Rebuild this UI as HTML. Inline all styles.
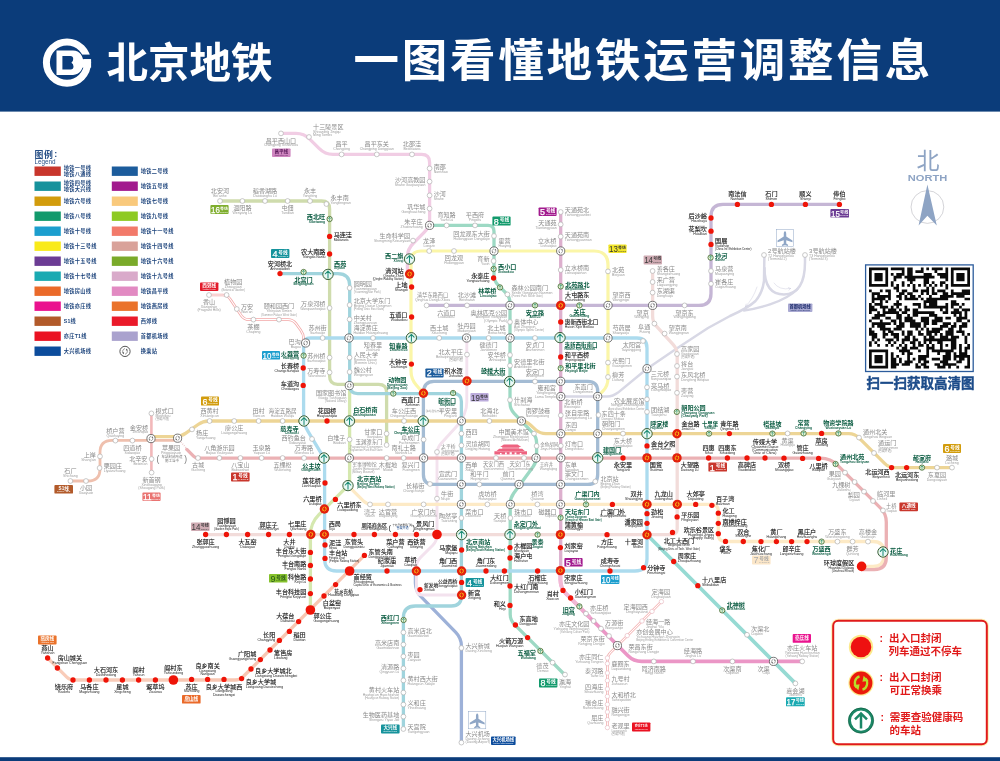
<!DOCTYPE html><html lang="zh"><head><meta charset="utf-8"><title>北京地铁 一图看懂地铁运营调整信息</title><style>html,body{margin:0;padding:0;background:#fff}body{width:1000px;height:761px;overflow:hidden;font-family:"Liberation Sans","Noto Sans CJK SC",sans-serif}svg{display:block;will-change:transform}</style></head><body><svg width="1000" height="761" viewBox="0 0 1000 761" font-family="'Liberation Sans', 'Noto Sans CJK SC', sans-serif"><defs><g id="mn"><circle r="2.4" fill="#fff" stroke="#b2b2b2" stroke-width="0.7"/></g><g id="mq"><circle r="2.2" fill="#fff" stroke="#e6b4bc" stroke-width="0.6"/></g><g id="mr"><circle r="2.65" fill="#ee1408"/></g><g id="mR"><circle r="4.8" fill="#ee1408"/></g><g id="mt"><circle r="4.1" fill="#fff" stroke="#555" stroke-width="0.8"/><g stroke="#5a5a5a" fill="#5a5a5a" transform="scale(0.86)"><path d="M-0.4 -2.5C-2.4 -1.9 -2.7 0.6 -1.6 1.9" fill="none" stroke-width="0.6" stroke-linecap="round"/><path d="M-2.5 1.0L-1.2 2.6L-0.8 0.8Z" stroke="none"/><path d="M0.4 2.5C2.4 1.9 2.7 -0.6 1.6 -1.9" fill="none" stroke-width="0.6" stroke-linecap="round"/><path d="M2.5 -1.0L1.2 -2.6L0.8 -0.8Z" stroke="none"/></g></g><g id="mT"><circle r="4.7" fill="#e2200c"/><g stroke="#fbbf14" fill="#fbbf14" transform="scale(0.82)"><path d="M-0.4 -2.5C-2.4 -1.9 -2.7 0.6 -1.6 1.9" fill="none" stroke-width="1.15" stroke-linecap="round"/><path d="M-2.5 1.0L-1.2 2.6L-0.8 0.8Z" stroke="none"/><path d="M0.4 2.5C2.4 1.9 2.7 -0.6 1.6 -1.9" fill="none" stroke-width="1.15" stroke-linecap="round"/><path d="M2.5 -1.0L1.2 -2.6L0.8 -0.8Z" stroke="none"/></g></g><g id="mH"><circle r="5.15" fill="#eaf8f8" stroke="#143c18" stroke-width="0.9"/><circle r="4.5" fill="none" stroke="#c4e2a8" stroke-width="0.4"/><path d="M0 3.5V-3.2M-2.7 -0.6L0 -3.4L2.7 -0.6" fill="none" stroke="#1d8c74" stroke-width="1.05" stroke-linecap="round" stroke-linejoin="round"/></g><g id="mh"><circle r="2.65" fill="#f2f8d8" stroke="#2d5a1e" stroke-width="0.75"/><path d="M0 1.7V-1.5M-1.3 -0.3L0 -1.6L1.3 -0.3" fill="none" stroke="#17896a" stroke-width="0.6" stroke-linecap="round" stroke-linejoin="round"/></g></defs><g fill="none" stroke-linecap="round" stroke-linejoin="round"><path d="M560.8 396.5H607Q613 396.5 618 392.6L647 368.7L676 349L708 328L730 316Q748 308 755.5 301Q762.5 293 764 281L764.4 255" stroke="#d8d8e5" stroke-width="2.5"/><path d="M764.5 268Q764.5 294.5 784 294.5Q805 294 805 262V255" stroke="#d8d8e5" stroke-width="2.5"/><path d="M797.4 289Q789 298 770 304.4Q756 309 744 310.5" stroke="#d8d8e5" stroke-width="2.5"/><path d="M757 287Q753 299 745.5 306.5M745.5 306.5l2.4-0.9M745.5 306.5l0.6-2.4" stroke="#c9c9dc" stroke-width="0.45"/><path d="M774 283Q779 290.5 790.5 288.5M790.5 288.5l-1.6 1.7M790.5 288.5l-2.2-1" stroke="#c9c9dc" stroke-width="0.45"/><path d="M415.4 571L415.4 583Q415.4 591 421 596.7L455.8 632.3Q461.4 638 461.4 646L461.4 742.6" stroke="#9db1d8" stroke-width="3.3"/><path d="M70.4 481L88 481Q100 481 100 469L100 452.4Q100 440.4 112 440.4L177.6 440.4" stroke="#efc0ae" stroke-width="2.8"/><path d="M151.4 413.4V472.6" stroke="#f2b8ba" stroke-width="2.6"/><path d="M281 133.4L296 133.4Q304 133.4 309.7 139.1L319.3 148.7Q325 154.4 333 154.4L421.6 154.4Q429.6 154.4 429.6 162.4L429.6 219Q429.6 227 423.9 232.7L413.1 243.5Q407.4 249.2 407.4 257.2L407.4 274" stroke="#f1cde4" stroke-width="3.3"/><path d="M220 201L321.6 201Q329.6 201 329.6 209L329.6 376.3Q329.6 384.3 337.6 384.3L378.6 384.3Q386.6 384.3 386.6 392.3L386.6 445" stroke="#cfdcad" stroke-width="3.3"/><path d="M466.8 338L466.8 402Q466.8 408 464.5 413.5L463.7 415.5Q461.4 421 457.4 425.5L441 443.5Q437 448 437 454L437 535Q437 541 432.8 545.2L420.6 557.4Q416.4 561.6 416.4 567.6L416.4 589Q416.4 595 422.4 595L461.6 595" stroke="#f3e2ee" stroke-width="2.9"/><path d="M426.6 305.4L699 305.4Q711 305.4 711 293.4L711 216.4Q711 204.4 723 204.4L839.4 204.4" stroke="#c5b6d5" stroke-width="3.3"/><path d="M423.4 393.3L416.2 385Q411 379 411 371L411 261Q411 251 421 251L594 251Q608 251 608 265L608 378Q608 386 602.9 391.2L597.7 396.5" stroke="#fbf6a8" stroke-width="3.2"/><path d="M205.6 534.6L671.2 534.6Q677.2 534.6 677.2 528.6L677.2 355Q677.2 349 673.2 344.6L656.6 326.4Q652.6 322 652.6 316L652.6 271" stroke="#f2dcda" stroke-width="3.3"/><path d="M647 534.8L795.4 683.4" stroke="#96dad3" stroke-width="3.7"/><path d="M429.6 225.4L488 225.4Q494 225.4 494 231.4L494 275Q494 281 498.2 285.2L505.8 292.8Q510 297 510 303L510 403Q510 409 514.1 413.3L532.5 432.7Q536.6 437 536.6 443L536.6 456Q536.6 462 533.1 466.8L513.7 493.2Q510.2 498 510.2 504L510.2 614.2Q510.2 620.2 514.4 624.4L565 675" stroke="#9dd9c4" stroke-width="3.3"/><path d="M349.6 385.6L349.6 480Q349.6 484 346.8 486.8L318.9 514.7Q310.4 523.2 310.4 535.2L310.4 610" stroke="#d5e8af" stroke-width="3.3"/><path d="M348 485.6L363.3 500.9Q366.8 504.4 371.8 504.4L711.3 504.4Q718.3 504.4 718.3 511.4L718.3 534.5Q718.3 541.5 725.3 541.5L873 541.5Q884 541.5 884 552.5L884 555.4Q884 566.4 873 566.4L861.6 566.4" stroke="#fdeac6" stroke-width="3.3"/><path d="M151 436.6L175 436.6Q181 436.6 185.9 433.1L198.1 424.5Q203 421 209 421L520 421Q526 421 530.5 425L535.5 429.6Q540 433.6 546 433.6L848.8 433.6Q854.8 433.6 859 437.8L884.6 463.4Q888.8 467.6 894.8 467.6L952 467.6" stroke="#edd596" stroke-width="3.3"/><path d="M560.7 212V570.6" stroke="#ddb0ce" stroke-width="3.3"/><path d="M280 273.6L337.7 273.6Q349.7 273.6 349.7 285.6L349.7 385.6Q349.7 393.6 357.7 393.6L453.4 393.6Q461.4 393.6 461.4 401.6L461.4 596Q461.4 606 451.4 606L415.4 606Q403.4 606 403.4 618L403.4 729" stroke="#a0d4dd" stroke-width="3.3"/><path d="M303.6 381L303.6 345Q303.6 338 310.6 338L637 338Q647 338 647 348L647 559Q647 571 635 571L336.6 571Q324.6 571 324.6 559L324.6 465Q324.6 459 321.5 453.9L307.7 430.9Q303.6 424 303.6 416Z" stroke="#acdbee" stroke-width="3.3"/><path d="M186.8 449.4L193.5 456.1Q195.6 458.2 198.6 458.2L820.6 458.2Q830.6 458.2 837.7 465.3L880.6 508.2Q886.3 513.9 886.3 521.9L886.3 557.6Q886.3 569.6 874.3 569.6L861.6 569.6" stroke="#ebb1b4" stroke-width="3.3"/><path d="M179.5 440.5L186.6 448.4" stroke="#eccfd0" stroke-width="1.6" stroke-dasharray="0.9 1.3" stroke-linecap="butt"/><path d="M423.4 393.3V474.4Q423.4 484.4 433.4 484.4H587.7Q597.7 484.4 597.7 474.4V391.3Q597.7 381.3 587.7 381.3H434Q423.4 381.3 423.4 393.3Z" stroke="#a4bcd4" stroke-width="3.3"/><path d="M364.4 555.4L243.3 676.5Q239.8 680 234.8 680L173.4 680" stroke="#f8c7b3" stroke-width="3.3"/><path d="M173.4 680L73.6 680Q69.6 680 66.8 677.2L47.6 658" stroke="#f9ccb9" stroke-width="3.3"/><path d="M560.4 570.6L560.4 580Q560.4 588 566 593.7L628 655.7Q633.6 661.4 641.6 661.4L802.2 661.4" stroke="#eb96c6" stroke-width="3.7"/><path d="M560.4 570.6L560.4 580Q560.4 588 566.1 593.7L583 610.6" stroke="#f2b9d5" stroke-width="3.8"/><path d="M583 610.6L589 616.6" stroke="#efa9cf" stroke-width="3.8"/><path d="M209 295L222.5 295Q227.5 295 230.3 299.2L241.2 315.4Q244 319.6 249 319.6L288 319.6Q293 319.6 296 323.6L300.6 330Q303.6 334 303.6 338.5L303.6 343" stroke="#f2a6a6" stroke-width="2.6"/><path d="M209 295L222.5 295Q227.5 295 230.3 299.2L241.2 315.4Q244 319.6 249 319.6L288 319.6Q293 319.6 296 323.6L300.6 330Q303.6 334 303.6 338.5L303.6 343" stroke="#fff" stroke-width="1.1"/><path d="M661.4 601.6L610.2 652.8Q607.4 655.6 607.4 659.6L607.4 727.6" stroke="#f2adad" stroke-width="2.6"/><path d="M661.4 601.6L610.2 652.8Q607.4 655.6 607.4 659.6L607.4 727.6" stroke="#fff" stroke-width="1.1"/></g><g fill="#ee6380"><path d="M494.4 454.5V451.2H527V454.5ZM496.6 451L499.2 448.7H522.2L524.8 451ZM502.2 448.5V447.2H519.2V448.5ZM500.2 447.1L503.8 444.6H517.6L521.2 447.1Z"/><path fill="#fff" d="M500 454.5v-1.6h1.6v1.6zM505 454.5v-1.9h1.8v1.9zM509.6 454.5v-2.2h2.2v2.2zM514.6 454.5v-1.9h1.8v1.9zM519.8 454.5v-1.6h1.6v1.6z"/></g><g><use href="#mn" x="281" y="133.4"/><use href="#mn" x="309" y="137"/><use href="#mn" x="341.6" y="154.4"/><use href="#mn" x="376.8" y="154.4"/><use href="#mn" x="412" y="154.4"/><use href="#mn" x="429.6" y="168.4"/><use href="#mn" x="429.6" y="181.6"/><use href="#mn" x="429.6" y="195.4"/><use href="#mn" x="429.6" y="208.6"/><use href="#mn" x="413" y="240.6"/><use href="#mn" x="220" y="201"/><use href="#mn" x="242.4" y="201"/><use href="#mn" x="265" y="201"/><use href="#mn" x="287.6" y="201"/><use href="#mn" x="310" y="201"/><use href="#mn" x="326.4" y="204"/><use href="#mn" x="329.6" y="308"/><use href="#mn" x="329.6" y="357.6"/><use href="#mn" x="329.6" y="372.4"/><use href="#mn" x="386.6" y="433.7"/><use href="#mn" x="386.6" y="445"/><use href="#mn" x="349.6" y="288"/><use href="#mn" x="349.6" y="305"/><use href="#mn" x="349.6" y="319.4"/><use href="#mn" x="349.6" y="357.6"/><use href="#mn" x="349.6" y="372"/><use href="#mn" x="461.4" y="433.6"/><use href="#mn" x="461.4" y="445.4"/><use href="#mn" x="461.4" y="518"/><use href="#mn" x="403.4" y="632.4"/><use href="#mn" x="403.4" y="644.6"/><use href="#mn" x="403.4" y="656.4"/><use href="#mn" x="403.4" y="668.4"/><use href="#mn" x="403.4" y="680.4"/><use href="#mn" x="403.4" y="692.6"/><use href="#mn" x="403.4" y="704.6"/><use href="#mn" x="403.4" y="716.6"/><use href="#mn" x="403.4" y="729"/><use href="#mn" x="322.6" y="338"/><use href="#mn" x="373" y="338"/><use href="#mn" x="439.2" y="338"/><use href="#mn" x="488.6" y="338"/><use href="#mn" x="535" y="338"/><use href="#mn" x="643" y="341"/><use href="#mn" x="647" y="387.3"/><use href="#mn" x="647" y="399.3"/><use href="#mn" x="647" y="411.9"/><use href="#mn" x="312" y="439"/><use href="#mn" x="429.2" y="251"/><use href="#mn" x="454" y="251"/><use href="#mn" x="608" y="271.4"/><use href="#mn" x="608" y="362.6"/><use href="#mn" x="608" y="377"/><use href="#mn" x="446.6" y="225.4"/><use href="#mn" x="475" y="225.4"/><use href="#mn" x="494" y="236"/><use href="#mn" x="493.6" y="261"/><use href="#mn" x="507.4" y="294.4"/><use href="#mn" x="510" y="322"/><use href="#mn" x="510" y="355"/><use href="#mn" x="510" y="365.6"/><use href="#mn" x="510" y="400"/><use href="#mn" x="534" y="433.6"/><use href="#mn" x="536.6" y="446"/><use href="#mn" x="510.4" y="518"/><use href="#mn" x="552.6" y="662.6"/><use href="#mn" x="565" y="674.6"/><use href="#mn" x="560.7" y="212"/><use href="#mn" x="560.7" y="224.4"/><use href="#mn" x="560.7" y="236.6"/><use href="#mn" x="560.7" y="270"/><use href="#mn" x="560.8" y="415.3"/><use href="#mn" x="560.8" y="445.8"/><use href="#mn" x="192" y="429.4"/><use href="#mn" x="209.6" y="421"/><use href="#mn" x="234.2" y="421"/><use href="#mn" x="258.6" y="421"/><use href="#mn" x="282.6" y="421"/><use href="#mn" x="404" y="421"/><use href="#mn" x="489.4" y="421"/><use href="#mn" x="623" y="433.6"/><use href="#mn" x="598.5" y="415"/><use href="#mn" x="787.6" y="433.4"/><use href="#mn" x="859" y="437.6"/><use href="#mn" x="874" y="453"/><use href="#mn" x="937" y="467.6"/><use href="#mn" x="952" y="467.6"/><use href="#mn" x="198" y="458"/><use href="#mn" x="219.4" y="458"/><use href="#mn" x="240.4" y="458"/><use href="#mn" x="261.6" y="458"/><use href="#mn" x="282.6" y="458"/><use href="#mn" x="304" y="458"/><use href="#mn" x="386.6" y="458"/><use href="#mn" x="403.6" y="458"/><use href="#mn" x="423.6" y="439.6"/><use href="#mn" x="430" y="484"/><use href="#mn" x="479.4" y="484.4"/><use href="#mn" x="595.3" y="481.5"/><use href="#mn" x="535" y="381.5"/><use href="#mn" x="496" y="458"/><use href="#mn" x="524" y="458"/><use href="#mn" x="845" y="472.6"/><use href="#mn" x="854.6" y="482"/><use href="#mn" x="864" y="491.6"/><use href="#mn" x="873" y="501"/><use href="#mn" x="883" y="510.4"/><use href="#mn" x="370" y="504.4"/><use href="#mn" x="388" y="504.4"/><use href="#mn" x="423.6" y="504.4"/><use href="#mn" x="487.4" y="504.4"/><use href="#mn" x="537.4" y="504.4"/><use href="#mn" x="837.4" y="541.6"/><use href="#mn" x="852.6" y="541.6"/><use href="#mn" x="868" y="541.6"/><use href="#mn" x="349.6" y="439.5"/><use href="#mn" x="677" y="392.8"/><use href="#mn" x="677" y="376.6"/><use href="#mn" x="677" y="366"/><use href="#mn" x="677" y="354"/><use href="#mn" x="664.6" y="333.6"/><use href="#mn" x="654.4" y="323.6"/><use href="#mn" x="652.6" y="292.6"/><use href="#mn" x="652.6" y="282"/><use href="#mn" x="652.6" y="271"/><use href="#mn" x="426.6" y="305.4"/><use href="#mn" x="446.4" y="305.4"/><use href="#mn" x="467" y="305.4"/><use href="#mn" x="684.6" y="305.4"/><use href="#mn" x="711" y="283.8"/><use href="#mn" x="711" y="271"/><use href="#mn" x="467" y="354.6"/><use href="#mn" x="437" y="452"/><use href="#mn" x="437" y="498.6"/><use href="#mn" x="70.4" y="481"/><use href="#mn" x="86" y="481"/><use href="#mn" x="99.6" y="468"/><use href="#mn" x="100" y="456.4"/><use href="#mn" x="115.4" y="440.6"/><use href="#mn" x="132.4" y="440.6"/><use href="#mn" x="151.4" y="413.4"/><use href="#mn" x="151.6" y="459"/><use href="#mn" x="151.6" y="472.6"/><use href="#mn" x="209" y="295"/><use href="#mn" x="226.6" y="295"/><use href="#mn" x="236.8" y="309"/><use href="#mn" x="253.4" y="319.6"/><use href="#mn" x="279" y="319.6"/><use href="#mn" x="764" y="255"/><use href="#mn" x="805" y="255"/><use href="#mn" x="461.4" y="648"/><use href="#mn" x="461.4" y="742.6"/><use href="#mn" x="586" y="613.6"/><use href="#mn" x="593.6" y="621"/><use href="#mn" x="601" y="628.6"/><use href="#mn" x="609" y="636"/><use href="#mn" x="653.8" y="661.4"/><use href="#mn" x="693" y="661.4"/><use href="#mn" x="732.4" y="661.4"/><use href="#mn" x="802.2" y="661.4"/><use href="#mn" x="747" y="634.8"/><use href="#mn" x="795.4" y="683.4"/><use href="#mq" x="661.4" y="601.6"/><use href="#mq" x="652" y="611.4"/><use href="#mq" x="642" y="621"/><use href="#mq" x="627.2" y="635.6"/><use href="#mq" x="607.4" y="658"/><use href="#mq" x="607.4" y="663.6"/><use href="#mq" x="607.4" y="673"/><use href="#mq" x="607.4" y="680.6"/><use href="#mq" x="607.4" y="689"/><use href="#mq" x="607.4" y="696.4"/><use href="#mq" x="607.4" y="704.4"/><use href="#mq" x="607.4" y="712"/><use href="#mq" x="607.4" y="719.6"/><use href="#mq" x="607.4" y="727.6"/><use href="#mt" x="429.6" y="225.4"/><use href="#mt" x="349.3" y="385.6"/><use href="#mt" x="349" y="338"/><use href="#mt" x="461.4" y="421"/><use href="#mt" x="461.4" y="458"/><use href="#mt" x="461.4" y="484.4"/><use href="#mt" x="461.4" y="504.4"/><use href="#mt" x="305.6" y="343"/><use href="#mt" x="466.6" y="338"/><use href="#mt" x="510" y="338"/><use href="#mt" x="608" y="338"/><use href="#mt" x="647" y="368.7"/><use href="#mt" x="494" y="251"/><use href="#mt" x="560.7" y="251"/><use href="#mt" x="608" y="305.4"/><use href="#mt" x="597.7" y="396.5"/><use href="#mt" x="510" y="305.4"/><use href="#mt" x="521.4" y="421"/><use href="#mt" x="536" y="458"/><use href="#mt" x="519" y="484.4"/><use href="#mt" x="510.4" y="504.4"/><use href="#mt" x="560.7" y="381.3"/><use href="#mt" x="560.8" y="396.5"/><use href="#mt" x="560.8" y="433.7"/><use href="#mt" x="560.8" y="457.8"/><use href="#mt" x="560.6" y="484.4"/><use href="#mt" x="560.6" y="504.4"/><use href="#mt" x="151" y="438.6"/><use href="#mt" x="177.6" y="438.2"/><use href="#mt" x="597.7" y="433.7"/><use href="#mt" x="349.3" y="458"/><use href="#mt" x="423.6" y="458"/><use href="#mt" x="652.6" y="305.4"/><use href="#mt" x="617.4" y="645.6"/><use href="#mt" x="773.5" y="661.4"/><use href="#mh" x="329.6" y="219"/><use href="#mh" x="303.6" y="272"/><use href="#mh" x="393.3" y="393.6"/><use href="#mh" x="453.1" y="393"/><use href="#mh" x="403.6" y="620"/><use href="#mh" x="303.6" y="355.6"/><use href="#mh" x="493.6" y="269"/><use href="#mh" x="500" y="287.4"/><use href="#mh" x="540.4" y="651"/><use href="#mh" x="560.7" y="286.4"/><use href="#mh" x="560.7" y="368.2"/><use href="#mh" x="560.6" y="517.6"/><use href="#mh" x="709" y="433.6"/><use href="#mh" x="772.4" y="433.6"/><use href="#mh" x="803.6" y="433.4"/><use href="#mh" x="838.4" y="433.4"/><use href="#mh" x="922" y="467.6"/><use href="#mh" x="835.6" y="464"/><use href="#mh" x="586" y="504.4"/><use href="#mh" x="821.6" y="541.6"/><use href="#mh" x="537.6" y="534.6"/><use href="#mh" x="676.8" y="411.9"/><use href="#mh" x="535" y="305.4"/><use href="#mh" x="579.4" y="305.4"/><use href="#mh" x="710.6" y="257.6"/><use href="#mh" x="579.4" y="606.4"/><use href="#mh" x="722.2" y="610.4"/><use href="#mr" x="329.6" y="236.4"/><use href="#mr" x="329.6" y="254"/><use href="#mr" x="280" y="273.6"/><use href="#mr" x="461.6" y="550"/><use href="#mr" x="461.6" y="582.4"/><use href="#mr" x="647" y="445.9"/><use href="#mr" x="647" y="513.7"/><use href="#mr" x="647" y="523.3"/><use href="#mr" x="643.6" y="567.7"/><use href="#mr" x="610" y="571"/><use href="#mr" x="537.6" y="571"/><use href="#mr" x="504.4" y="571"/><use href="#mr" x="486" y="571"/><use href="#mr" x="387" y="571"/><use href="#mR" x="349.6" y="571"/><use href="#mr" x="325" y="558.4"/><use href="#mr" x="325" y="545"/><use href="#mr" x="325" y="483"/><use href="#mr" x="303.2" y="385.4"/><use href="#mr" x="303.2" y="368"/><use href="#mr" x="411.6" y="287"/><use href="#mr" x="411.6" y="317"/><use href="#mr" x="411.4" y="364.1"/><use href="#mr" x="493.6" y="278"/><use href="#mr" x="510" y="547.6"/><use href="#mr" x="510" y="558"/><use href="#mr" x="510" y="586"/><use href="#mr" x="510" y="605.4"/><use href="#mr" x="515.4" y="625"/><use href="#mr" x="527.6" y="637.6"/><use href="#mr" x="560.7" y="322"/><use href="#mr" x="560.7" y="357"/><use href="#mr" x="560.4" y="547.6"/><use href="#mr" x="327" y="421"/><use href="#mr" x="729.4" y="433.6"/><use href="#mr" x="821.6" y="433.4"/><use href="#mr" x="891.6" y="467.6"/><use href="#mr" x="906.6" y="467.6"/><use href="#mr" x="623" y="458"/><use href="#mr" x="708.6" y="458"/><use href="#mr" x="727.4" y="458"/><use href="#mr" x="747" y="458"/><use href="#mr" x="765" y="458"/><use href="#mr" x="784" y="458.2"/><use href="#mr" x="802.6" y="458.4"/><use href="#mr" x="818.6" y="458.4"/><use href="#mR" x="861.6" y="566.4"/><use href="#mr" x="612.4" y="504.4"/><use href="#mr" x="695.7" y="504.4"/><use href="#mr" x="711.9" y="505.3"/><use href="#mr" x="718.3" y="513.2"/><use href="#mr" x="718.3" y="523.3"/><use href="#mr" x="718.3" y="533.7"/><use href="#mr" x="725.5" y="541.4"/><use href="#mr" x="743.3" y="541.5"/><use href="#mr" x="761" y="541.6"/><use href="#mr" x="776.4" y="541.6"/><use href="#mr" x="791.6" y="541.6"/><use href="#mr" x="807" y="541.6"/><use href="#mr" x="335.4" y="499.4"/><use href="#mr" x="310.4" y="552.4"/><use href="#mr" x="310.4" y="565.4"/><use href="#mr" x="310.4" y="579"/><use href="#mr" x="310.4" y="593.6"/><use href="#mR" x="310.4" y="610"/><use href="#mr" x="205.6" y="534.5"/><use href="#mr" x="226.4" y="534.5"/><use href="#mr" x="247.6" y="534.5"/><use href="#mr" x="268.6" y="534.5"/><use href="#mr" x="289.4" y="534.5"/><use href="#mr" x="354" y="534.5"/><use href="#mr" x="374.4" y="534.5"/><use href="#mr" x="395.4" y="534.5"/><use href="#mr" x="416.4" y="534.5"/><use href="#mR" x="437" y="534.5"/><use href="#mr" x="607" y="534.7"/><use href="#mr" x="672.5" y="532.4"/><use href="#mr" x="677.1" y="516.9"/><use href="#mr" x="711" y="244.4"/><use href="#mr" x="711" y="231.2"/><use href="#mr" x="711" y="218"/><use href="#mr" x="737.4" y="204.4"/><use href="#mr" x="771.4" y="204.4"/><use href="#mr" x="805.4" y="204.4"/><use href="#mr" x="839.4" y="204.4"/><use href="#mr" x="420" y="589.6"/><use href="#mr" x="364.4" y="555.4"/><use href="#mr" x="335.6" y="584.6"/><use href="#mr" x="324" y="596"/><use href="#mr" x="298.6" y="621.6"/><use href="#mr" x="289.4" y="631.4"/><use href="#mr" x="279.4" y="640.4"/><use href="#mr" x="270" y="650"/><use href="#mr" x="260.4" y="659.6"/><use href="#mr" x="251" y="669"/><use href="#mr" x="241.6" y="678.6"/><use href="#mr" x="224" y="679.4"/><use href="#mr" x="207.6" y="679.4"/><use href="#mr" x="191.6" y="679.4"/><use href="#mR" x="173.4" y="680"/><use href="#mr" x="155.4" y="680"/><use href="#mr" x="138.6" y="680"/><use href="#mr" x="122.4" y="680"/><use href="#mr" x="106" y="680"/><use href="#mr" x="89.4" y="680"/><use href="#mr" x="73" y="680"/><use href="#mr" x="57.4" y="668"/><use href="#mr" x="47.6" y="658"/><use href="#mr" x="563" y="590.4"/><use href="#mr" x="570.6" y="598"/><use href="#mr" x="673.7" y="561.5"/><use href="#mr" x="697.8" y="585.7"/><use href="#mT" x="423.4" y="393.3"/><use href="#mT" x="461.6" y="571"/><use href="#mT" x="461.6" y="595"/><use href="#mT" x="647" y="457.9"/><use href="#mT" x="647" y="504.4"/><use href="#mT" x="647" y="534.8"/><use href="#mT" x="560.4" y="570.6"/><use href="#mT" x="416.4" y="571"/><use href="#mT" x="324.4" y="534.4"/><use href="#mT" x="324.4" y="509"/><use href="#mT" x="409.6" y="274"/><use href="#mT" x="560.7" y="305.4"/><use href="#mT" x="560.4" y="534.6"/><use href="#mT" x="677.3" y="504.4"/><use href="#mT" x="310.8" y="534.4"/><use href="#mT" x="677" y="433.7"/><use href="#mT" x="677" y="457.9"/><use href="#mT" x="467" y="381"/><use href="#mH" x="409.5" y="259"/><use href="#mH" x="328" y="274.4"/><use href="#mH" x="461.6" y="534.6"/><use href="#mH" x="411.4" y="337.8"/><use href="#mH" x="560" y="337.6"/><use href="#mH" x="647" y="433.7"/><use href="#mH" x="324" y="458"/><use href="#mH" x="304" y="421"/><use href="#mH" x="509.6" y="381.6"/><use href="#mH" x="510" y="534.6"/><use href="#mH" x="349.5" y="421"/><use href="#mH" x="423.2" y="421"/><use href="#mH" x="597.7" y="457.8"/><use href="#mH" x="883" y="552"/><use href="#mH" x="348" y="485.6"/></g><g><g aria-label="昌平西山口"><text x="265.75" y="142.52" font-size="6.1" fill="#8a8a8a">昌平西山口</text><text x="281" y="146.42" font-size="3.5" fill="#9c9c9c" text-anchor="middle">Changping Xishankou</text></g><g aria-label="十三陵景区"><text x="313.1" y="129.2" font-size="6.1" fill="#8a8a8a">十三陵景区</text><text x="313.1" y="133.1" font-size="3.5" fill="#9c9c9c" text-anchor="start">Shisanling Jingqu</text><text x="313.1" y="136.3" font-size="3.5" fill="#9c9c9c" text-anchor="start">Ming Tombs</text></g><g aria-label="昌平"><text x="335.5" y="146.4" font-size="6.1" fill="#8a8a8a">昌平</text><text x="341.6" y="150.3" font-size="3.5" fill="#9c9c9c" text-anchor="middle">Changping</text></g><g aria-label="昌平东关"><text x="364.6" y="146.4" font-size="6.1" fill="#8a8a8a">昌平东关</text><text x="376.8" y="150.3" font-size="3.5" fill="#9c9c9c" text-anchor="middle">Changping Dongguan</text></g><g aria-label="北邵洼"><text x="402.85" y="146.4" font-size="6.1" fill="#8a8a8a">北邵洼</text><text x="412" y="150.3" font-size="3.5" fill="#9c9c9c" text-anchor="middle">Beishaowa</text></g><g aria-label="南邵"><text x="433.7" y="168.6" font-size="6.1" fill="#8a8a8a">南邵</text><text x="433.7" y="172.5" font-size="3.5" fill="#9c9c9c" text-anchor="start">Nanshao</text></g><g aria-label="沙河高教园"><text x="395" y="181.8" font-size="6.1" fill="#8a8a8a">沙河高教园</text><text x="425.5" y="185.7" font-size="3.5" fill="#9c9c9c" text-anchor="end">Shahe Gaojiaoyuan</text></g><g aria-label="沙河"><text x="433.7" y="195.6" font-size="6.1" fill="#8a8a8a">沙河</text><text x="433.7" y="199.5" font-size="3.5" fill="#9c9c9c" text-anchor="start">Shahe</text></g><g aria-label="巩华城"><text x="407.2" y="208.8" font-size="6.1" fill="#8a8a8a">巩华城</text><text x="425.5" y="212.7" font-size="3.5" fill="#9c9c9c" text-anchor="end">Gonghuacheng</text></g><g aria-label="朱辛庄"><text x="404.3" y="224.1" font-size="6.1" fill="#8a8a8a">朱辛庄</text><text x="422.6" y="228" font-size="3.5" fill="#9c9c9c" text-anchor="end">Zhuxinzhuang</text></g><g aria-label="生命科学园"><text x="379.6" y="237.8" font-size="6.1" fill="#8a8a8a">生命科学园</text><text x="410.1" y="241.7" font-size="3.5" fill="#9c9c9c" text-anchor="end">Shengming Kexueyuan</text></g><g aria-label="西二旗"><text x="385.1" y="258.2" font-size="6.1" fill="#0b5c42" font-weight="bold">西二旗</text><text x="403.4" y="261.7" font-size="3.3" fill="#0b5c42" text-anchor="end" font-weight="bold">Xi&#x27;erqi</text></g><g aria-label="北安河"><text x="210.85" y="193" font-size="6.1" fill="#8a8a8a">北安河</text><text x="220" y="196.9" font-size="3.5" fill="#9c9c9c" text-anchor="middle">Bei&#x27;anhe</text></g><g aria-label="温阳路"><text x="233.25" y="210.12" font-size="6.1" fill="#8a8a8a">温阳路</text><text x="242.4" y="214.02" font-size="3.5" fill="#9c9c9c" text-anchor="middle">Wenyang Lu</text></g><g aria-label="稻香湖路"><text x="252.8" y="193" font-size="6.1" fill="#8a8a8a">稻香湖路</text><text x="265" y="196.9" font-size="3.5" fill="#9c9c9c" text-anchor="middle">Daoxianghu Lu</text></g><g aria-label="屯佃"><text x="281.5" y="210.12" font-size="6.1" fill="#8a8a8a">屯佃</text><text x="287.6" y="214.02" font-size="3.5" fill="#9c9c9c" text-anchor="middle">Tundian</text></g><g aria-label="永丰"><text x="303.9" y="193" font-size="6.1" fill="#8a8a8a">永丰</text><text x="310" y="196.9" font-size="3.5" fill="#9c9c9c" text-anchor="middle">Yongfeng</text></g><g aria-label="永丰南"><text x="330.5" y="199.7" font-size="6.1" fill="#8a8a8a">永丰南</text><text x="330.5" y="203.6" font-size="3.5" fill="#9c9c9c" text-anchor="start">Yongfengnan</text></g><g aria-label="西北旺"><text x="306.8" y="219.2" font-size="6.1" fill="#0b5c42" font-weight="bold">西北旺</text><text x="325.1" y="222.7" font-size="3.3" fill="#0b5c42" text-anchor="end" font-weight="bold">Xibeiwang</text></g><g aria-label="马连洼"><text x="333.7" y="236.6" font-size="6.1" fill="#1a1a1a" stroke="#1a1a1a" stroke-width="0.13">马连洼</text><text x="333.7" y="240.5" font-size="3.5" fill="#1a1a1a" text-anchor="start">Malianwa</text></g><g aria-label="农大南路"><text x="301.1" y="254.2" font-size="6.1" fill="#1a1a1a" stroke="#1a1a1a" stroke-width="0.13">农大南路</text><text x="325.5" y="258.1" font-size="3.5" fill="#1a1a1a" text-anchor="end">Nongda Nanlu</text></g><g aria-label="西苑"><text x="334.1" y="265.6" font-size="6.1" fill="#0b5c42" font-weight="bold">西苑</text><text x="334.1" y="269.1" font-size="3.3" fill="#0b5c42" text-anchor="start" font-weight="bold">Xiyuan</text></g><g aria-label="万泉河桥"><text x="301.1" y="306.2" font-size="6.1" fill="#8a8a8a">万泉河桥</text><text x="325.5" y="310.1" font-size="3.5" fill="#9c9c9c" text-anchor="end">Wanquanheqiao</text></g><g aria-label="苏州桥"><text x="307.2" y="357.8" font-size="6.1" fill="#8a8a8a">苏州桥</text><text x="325.5" y="361.7" font-size="3.5" fill="#9c9c9c" text-anchor="end">Suzhouqiao</text></g><g aria-label="万寿寺"><text x="307.2" y="372.6" font-size="6.1" fill="#8a8a8a">万寿寺</text><text x="325.5" y="376.5" font-size="3.5" fill="#9c9c9c" text-anchor="end">Wanshousi</text></g><g aria-label="国家图书馆"><text x="315.95" y="394.77" font-size="6.1" fill="#8a8a8a">国家图书馆</text><text x="346.45" y="398.67" font-size="3.5" fill="#9c9c9c" text-anchor="end">Guojia Tushuguan</text><text x="346.45" y="401.87" font-size="2.8" fill="#9c9c9c" text-anchor="end">(National Library)</text></g><g aria-label="甘家口"><text x="364.2" y="433.9" font-size="6.1" fill="#8a8a8a">甘家口</text><text x="382.5" y="437.8" font-size="3.5" fill="#9c9c9c" text-anchor="end">Ganjiakou</text></g><g aria-label="玉渊潭东门"><text x="355.5" y="444.2" font-size="5.4" fill="#8a8a8a">玉渊潭东门</text><text x="382.5" y="448.1" font-size="3.5" fill="#9c9c9c" text-anchor="end">Yuyuantan Dongmen</text><text x="382.5" y="451.3" font-size="2.8" fill="#9c9c9c" text-anchor="end">Yuyuantan Park East Gate</text></g><g aria-label="安河桥北"><text x="267.8" y="265.6" font-size="6.1" fill="#1a1a1a" stroke="#1a1a1a" stroke-width="0.13">安河桥北</text><text x="280" y="269.5" font-size="3.5" fill="#1a1a1a" text-anchor="middle">Anheqiaobei</text></g><g aria-label="北宫门"><text x="294.45" y="281.52" font-size="6.1" fill="#0b5c42" font-weight="bold">北宫门</text><text x="303.6" y="285.02" font-size="3.3" fill="#0b5c42" text-anchor="middle" font-weight="bold">Beigongmen</text></g><g aria-label="圆明园"><text x="353.7" y="285.7" font-size="6.1" fill="#8a8a8a">圆明园</text><text x="353.7" y="289.6" font-size="3.5" fill="#9c9c9c" text-anchor="start">Yuanmingyuan</text><text x="353.7" y="292.8" font-size="2.8" fill="#9c9c9c" text-anchor="start">(Yuanmingyuan Park)</text></g><g aria-label="北京大学东门"><text x="353.7" y="302.7" font-size="6.1" fill="#8a8a8a">北京大学东门</text><text x="353.7" y="306.6" font-size="3.5" fill="#9c9c9c" text-anchor="start">Beijing Daxue Dongmen</text><text x="353.7" y="309.8" font-size="2.8" fill="#9c9c9c" text-anchor="start">(Peking Univ. East Gate)</text></g><g aria-label="中关村"><text x="353.7" y="319.6" font-size="6.1" fill="#8a8a8a">中关村</text><text x="353.7" y="323.5" font-size="3.5" fill="#9c9c9c" text-anchor="start">Zhongguancun</text></g><g aria-label="海淀黄庄"><text x="353.38" y="329.9" font-size="6.1" fill="#8a8a8a">海淀黄庄</text><text x="353.38" y="333.8" font-size="3.5" fill="#9c9c9c" text-anchor="start">Haidian Huangzhuang</text></g><g aria-label="人民大学"><text x="353.7" y="356.8" font-size="6.1" fill="#8a8a8a">人民大学</text><text x="353.7" y="360.7" font-size="3.5" fill="#9c9c9c" text-anchor="start">Renmin Daxue</text><text x="353.7" y="363.9" font-size="3.5" fill="#9c9c9c" text-anchor="start">(Renmin Univ.)</text></g><g aria-label="魏公村"><text x="353.7" y="372.2" font-size="6.1" fill="#8a8a8a">魏公村</text><text x="353.7" y="376.1" font-size="3.5" fill="#9c9c9c" text-anchor="start">Weigongcun</text></g><g aria-label="动物园"><text x="388.15" y="382.4" font-size="6.1" fill="#0b5c42" font-weight="bold">动物园</text><text x="397.3" y="385.9" font-size="3.3" fill="#0b5c42" text-anchor="middle" font-weight="bold">Dongwuyuan</text><text x="397.3" y="389.1" font-size="3.3" fill="#0b5c42" text-anchor="middle" font-weight="bold">(Beijing Zoo)</text></g><g aria-label="西直门"><text x="401.25" y="402.47" font-size="6.1" fill="#1a1a1a" stroke="#1a1a1a" stroke-width="0.13">西直门</text><text x="419.55" y="406.37" font-size="3.5" fill="#1a1a1a" text-anchor="end">Xizhimen</text></g><g aria-label="新街口"><text x="437.95" y="402.52" font-size="6.1" fill="#0b5c42" font-weight="bold">新街口</text><text x="447.1" y="406.02" font-size="3.3" fill="#0b5c42" text-anchor="middle" font-weight="bold">Xinjiekou</text></g><g aria-label="平安里"><text x="438.72" y="412.9" font-size="6.1" fill="#8a8a8a">平安里</text><text x="457.02" y="416.8" font-size="3.5" fill="#9c9c9c" text-anchor="end">Ping&#x27;anli</text></g><g aria-label="西四"><text x="465.5" y="433.8" font-size="6.1" fill="#8a8a8a">西四</text><text x="465.5" y="437.7" font-size="3.5" fill="#9c9c9c" text-anchor="start">Xisi</text></g><g aria-label="灵境胡同"><text x="465.5" y="445.6" font-size="6.1" fill="#8a8a8a">灵境胡同</text><text x="465.5" y="449.5" font-size="3.5" fill="#9c9c9c" text-anchor="start">Lingjing Hutong</text></g><g aria-label="西单"><text x="465.25" y="467.17" font-size="6.1" fill="#8a8a8a">西单</text><text x="465.25" y="471.07" font-size="3.5" fill="#9c9c9c" text-anchor="start">Xidan</text></g><g aria-label="宣武门"><text x="438.72" y="476.3" font-size="6.1" fill="#8a8a8a">宣武门</text><text x="457.02" y="480.2" font-size="3.5" fill="#9c9c9c" text-anchor="end">Xuanwumen</text></g><g aria-label="菜市口"><text x="465.25" y="513.57" font-size="6.1" fill="#8a8a8a">菜市口</text><text x="465.25" y="517.47" font-size="3.5" fill="#9c9c9c" text-anchor="start">Caishikou</text></g><g aria-label="陶然亭"><text x="439" y="518.2" font-size="6.1" fill="#8a8a8a">陶然亭</text><text x="457.3" y="522.1" font-size="3.5" fill="#9c9c9c" text-anchor="end">Taoranting</text></g><g aria-label="北京南站"><text x="466" y="544.32" font-size="6.1" fill="#0b5c42" font-weight="bold">北京南站</text><text x="466" y="547.82" font-size="3.3" fill="#0b5c42" text-anchor="start" font-weight="bold">Beijing Nanzhan</text><text x="466" y="551.02" font-size="2.64" fill="#0b5c42" text-anchor="start" font-weight="bold">(Beijing South Railway Station)</text></g><g aria-label="马家堡"><text x="439.2" y="550.2" font-size="6.1" fill="#1a1a1a" stroke="#1a1a1a" stroke-width="0.13">马家堡</text><text x="457.5" y="554.1" font-size="3.5" fill="#1a1a1a" text-anchor="end">Majiapu</text></g><g aria-label="角门西"><text x="438.93" y="562.9" font-size="6.1" fill="#1a1a1a" stroke="#1a1a1a" stroke-width="0.13">角门西</text><text x="457.23" y="566.8" font-size="3.5" fill="#1a1a1a" text-anchor="end">Jiaomenxi</text></g><g aria-label="公益西桥"><text x="437.9" y="582.6" font-size="4.9" fill="#1a1a1a" stroke="#1a1a1a" stroke-width="0.11">公益西桥</text><text x="457.5" y="586.5" font-size="3.5" fill="#1a1a1a" text-anchor="end">Gongyixiqiao</text></g><g aria-label="新宫"><text x="468.1" y="595.2" font-size="6.1" fill="#1a1a1a" stroke="#1a1a1a" stroke-width="0.13">新宫</text><text x="468.1" y="599.1" font-size="3.5" fill="#1a1a1a" text-anchor="start">Xingong</text></g><g aria-label="西红门"><text x="380.8" y="620.2" font-size="6.1" fill="#0b5c42" font-weight="bold">西红门</text><text x="399.1" y="623.7" font-size="3.3" fill="#0b5c42" text-anchor="end" font-weight="bold">Xihongmen</text></g><g aria-label="高米店北"><text x="407.5" y="632.6" font-size="6.1" fill="#8a8a8a">高米店北</text><text x="407.5" y="636.5" font-size="3.5" fill="#9c9c9c" text-anchor="start">Gaomidianbei</text></g><g aria-label="高米店南"><text x="374.9" y="644.8" font-size="6.1" fill="#8a8a8a">高米店南</text><text x="399.3" y="648.7" font-size="3.5" fill="#9c9c9c" text-anchor="end">Gaomidiannan</text></g><g aria-label="枣园"><text x="407.5" y="656.6" font-size="6.1" fill="#8a8a8a">枣园</text><text x="407.5" y="660.5" font-size="3.5" fill="#9c9c9c" text-anchor="start">Zaoyuan</text></g><g aria-label="清源路"><text x="381" y="668.6" font-size="6.1" fill="#8a8a8a">清源路</text><text x="399.3" y="672.5" font-size="3.5" fill="#9c9c9c" text-anchor="end">Qingyuan Lu</text></g><g aria-label="黄村西大街"><text x="407.5" y="680.6" font-size="6.1" fill="#8a8a8a">黄村西大街</text><text x="407.5" y="684.5" font-size="3.5" fill="#9c9c9c" text-anchor="start">Huangcun Xidajie</text></g><g aria-label="黄村火车站"><text x="368.8" y="691.8" font-size="6.1" fill="#8a8a8a">黄村火车站</text><text x="399.3" y="695.7" font-size="3.5" fill="#9c9c9c" text-anchor="end">Huangcun Huochezhan</text><text x="399.3" y="698.9" font-size="2.8" fill="#9c9c9c" text-anchor="end">(Huangcun Railway Station)</text></g><g aria-label="义和庄"><text x="407.5" y="704.8" font-size="6.1" fill="#8a8a8a">义和庄</text><text x="407.5" y="708.7" font-size="3.5" fill="#9c9c9c" text-anchor="start">Yihezhuang</text></g><g aria-label="生物医药基地"><text x="362.7" y="716.8" font-size="6.1" fill="#8a8a8a">生物医药基地</text><text x="399.3" y="720.7" font-size="3.5" fill="#9c9c9c" text-anchor="end">Shengwu Yiyao Jidi</text></g><g aria-label="天宫院"><text x="407.5" y="729.2" font-size="6.1" fill="#8a8a8a">天宫院</text><text x="407.5" y="733.1" font-size="3.5" fill="#9c9c9c" text-anchor="start">Tiangongyuan</text></g><g aria-label="巴沟"><text x="288.6" y="343.7" font-size="6.1" fill="#8a8a8a">巴沟</text><text x="300.8" y="347.6" font-size="3.5" fill="#9c9c9c" text-anchor="end">Bagou</text></g><g aria-label="苏州街"><text x="308.45" y="330" font-size="6.1" fill="#8a8a8a">苏州街</text><text x="317.6" y="333.9" font-size="3.5" fill="#9c9c9c" text-anchor="middle">Suzhoujie</text></g><g aria-label="知春里"><text x="363.85" y="347.12" font-size="6.1" fill="#8a8a8a">知春里</text><text x="373" y="351.02" font-size="3.5" fill="#9c9c9c" text-anchor="middle">Zhichunli</text></g><g aria-label="知春路"><text x="389.3" y="347.52" font-size="6.1" fill="#0b5c42" font-weight="bold">知春路</text><text x="407.6" y="351.02" font-size="3.3" fill="#0b5c42" text-anchor="end" font-weight="bold">Zhichun Lu</text></g><g aria-label="西土城"><text x="430.05" y="330" font-size="6.1" fill="#8a8a8a">西土城</text><text x="439.2" y="333.9" font-size="3.5" fill="#9c9c9c" text-anchor="middle">Xitucheng</text></g><g aria-label="牡丹园"><text x="457.45" y="328.1" font-size="6.1" fill="#8a8a8a">牡丹园</text><text x="466.6" y="332" font-size="3.5" fill="#9c9c9c" text-anchor="middle">Mudanyuan</text></g><g aria-label="健德门"><text x="479.45" y="347.12" font-size="6.1" fill="#8a8a8a">健德门</text><text x="488.6" y="351.02" font-size="3.5" fill="#9c9c9c" text-anchor="middle">Jiandemen</text></g><g aria-label="北土城"><text x="487.32" y="329.9" font-size="6.1" fill="#8a8a8a">北土城</text><text x="505.62" y="333.8" font-size="3.5" fill="#9c9c9c" text-anchor="end">Beitucheng</text></g><g aria-label="安贞门"><text x="525.85" y="347.12" font-size="6.1" fill="#8a8a8a">安贞门</text><text x="535" y="351.02" font-size="3.5" fill="#9c9c9c" text-anchor="middle">Anzhenmen</text></g><g aria-label="惠新西街南口"><text x="564.4" y="346.82" font-size="5.5" fill="#0b5c42" font-weight="bold">惠新西街南口</text><text x="564.4" y="350.32" font-size="3.3" fill="#0b5c42" text-anchor="start" font-weight="bold">Huixin Xijie Nankou</text></g><g aria-label="芍药居"><text x="612.38" y="329.9" font-size="6.1" fill="#8a8a8a">芍药居</text><text x="612.38" y="333.8" font-size="3.5" fill="#9c9c9c" text-anchor="start">Shaoyaoju</text></g><g aria-label="太阳宫"><text x="622.8" y="347.22" font-size="6.1" fill="#8a8a8a">太阳宫</text><text x="641.1" y="351.12" font-size="3.5" fill="#9c9c9c" text-anchor="end">Taiyanggong</text></g><g aria-label="三元桥"><text x="650.85" y="376.07" font-size="6.1" fill="#8a8a8a">三元桥</text><text x="650.85" y="379.97" font-size="3.5" fill="#9c9c9c" text-anchor="start">Sanyuanqiao</text></g><g aria-label="亮马桥"><text x="651.1" y="387.5" font-size="6.1" fill="#8a8a8a">亮马桥</text><text x="651.1" y="391.4" font-size="3.5" fill="#9c9c9c" text-anchor="start">Liangmaqiao</text></g><g aria-label="农业展览馆"><text x="613.9" y="402.5" font-size="6.1" fill="#8a8a8a">农业展览馆</text><text x="644.4" y="406.4" font-size="3.5" fill="#9c9c9c" text-anchor="end">Nongye Zhanlanguan</text><text x="644.4" y="409.6" font-size="2.8" fill="#9c9c9c" text-anchor="end">Agricultural Exhibition Center</text></g><g aria-label="团结湖"><text x="651.1" y="412.1" font-size="6.1" fill="#8a8a8a">团结湖</text><text x="651.1" y="416" font-size="3.5" fill="#9c9c9c" text-anchor="start">Tuanjiehu</text></g><g aria-label="呼家楼"><text x="650.2" y="425.9" font-size="6.1" fill="#0b5c42" font-weight="bold">呼家楼</text><text x="650.2" y="429.4" font-size="3.3" fill="#0b5c42" text-anchor="start" font-weight="bold">Hujialou</text></g><g aria-label="金台夕照"><text x="651.1" y="446.1" font-size="6.1" fill="#1a1a1a" stroke="#1a1a1a" stroke-width="0.13">金台夕照</text><text x="651.1" y="450" font-size="3.5" fill="#1a1a1a" text-anchor="start">Jintai Xizhao</text></g><g aria-label="国贸"><text x="649.85" y="467.07" font-size="6.1" fill="#1a1a1a" stroke="#1a1a1a" stroke-width="0.13">国贸</text><text x="649.85" y="470.97" font-size="3.5" fill="#1a1a1a" text-anchor="start">Guomao</text></g><g aria-label="双井"><text x="630.42" y="496.3" font-size="6.1" fill="#1a1a1a" stroke="#1a1a1a" stroke-width="0.13">双井</text><text x="642.62" y="500.2" font-size="3.5" fill="#1a1a1a" text-anchor="end">Shuangjing</text></g><g aria-label="劲松"><text x="651.1" y="513.9" font-size="6.1" fill="#1a1a1a" stroke="#1a1a1a" stroke-width="0.13">劲松</text><text x="651.1" y="517.8" font-size="3.5" fill="#1a1a1a" text-anchor="start">Jinsong</text></g><g aria-label="潘家园"><text x="624.6" y="523.5" font-size="6.1" fill="#1a1a1a" stroke="#1a1a1a" stroke-width="0.13">潘家园</text><text x="642.9" y="527.4" font-size="3.5" fill="#1a1a1a" text-anchor="end">Panjiayuan</text></g><g aria-label="十里河"><text x="624.85" y="543.97" font-size="6.1" fill="#1a1a1a" stroke="#1a1a1a" stroke-width="0.13">十里河</text><text x="643.15" y="547.87" font-size="3.5" fill="#1a1a1a" text-anchor="end">Shilihe</text></g><g aria-label="分钟寺"><text x="647.2" y="569.9" font-size="6.1" fill="#1a1a1a" stroke="#1a1a1a" stroke-width="0.13">分钟寺</text><text x="647.2" y="573.8" font-size="3.5" fill="#1a1a1a" text-anchor="start">Fenzhongsi</text></g><g aria-label="成寿寺"><text x="600.85" y="563" font-size="6.1" fill="#1a1a1a" stroke="#1a1a1a" stroke-width="0.13">成寿寺</text><text x="610" y="566.9" font-size="3.5" fill="#1a1a1a" text-anchor="middle">Chengshousi</text></g><g aria-label="宋家庄"><text x="564.25" y="579.77" font-size="6.1" fill="#1a1a1a" stroke="#1a1a1a" stroke-width="0.13">宋家庄</text><text x="564.25" y="583.67" font-size="3.5" fill="#1a1a1a" text-anchor="start">Songjiazhuang</text></g><g aria-label="石榴庄"><text x="528.45" y="580.12" font-size="6.1" fill="#1a1a1a" stroke="#1a1a1a" stroke-width="0.13">石榴庄</text><text x="537.6" y="584.02" font-size="3.5" fill="#1a1a1a" text-anchor="middle">Shiliuzhuang</text></g><g aria-label="大红门"><text x="490.25" y="580.12" font-size="6.1" fill="#1a1a1a" stroke="#1a1a1a" stroke-width="0.13">大红门</text><text x="499.4" y="584.02" font-size="3.5" fill="#1a1a1a" text-anchor="middle">Dahongmen</text></g><g aria-label="角门东"><text x="476.85" y="563" font-size="6.1" fill="#1a1a1a" stroke="#1a1a1a" stroke-width="0.13">角门东</text><text x="486" y="566.9" font-size="3.5" fill="#1a1a1a" text-anchor="middle">Jiaomendong</text></g><g aria-label="草桥"><text x="404.3" y="562.1" font-size="6.1" fill="#1a1a1a" stroke="#1a1a1a" stroke-width="0.13">草桥</text><text x="410.4" y="566" font-size="3.5" fill="#1a1a1a" text-anchor="middle">Caoqiao</text></g><g aria-label="纪家庙"><text x="377.85" y="563" font-size="6.1" fill="#1a1a1a" stroke="#1a1a1a" stroke-width="0.13">纪家庙</text><text x="387" y="566.9" font-size="3.5" fill="#1a1a1a" text-anchor="middle">Jijiamiao</text></g><g aria-label="首经贸"><text x="353.6" y="578.82" font-size="6.1" fill="#1a1a1a" stroke="#1a1a1a" stroke-width="0.13">首经贸</text><text x="353.6" y="582.72" font-size="3.5" fill="#1a1a1a" text-anchor="start">Shoujingmao</text><text x="353.6" y="585.92" font-size="2.8" fill="#1a1a1a" text-anchor="start">Capital Univ. of Economics &amp; Business</text></g><g aria-label="丰台站"><text x="329.1" y="555.1" font-size="6.1" fill="#1a1a1a" stroke="#1a1a1a" stroke-width="0.13">丰台站</text><text x="329.1" y="559" font-size="2.7" fill="#1a1a1a" text-anchor="start">Fengtai Zhan</text><text x="329.1" y="562.2" font-size="2.7" fill="#1a1a1a" text-anchor="start">(Fengtai Railway Station)</text></g><g aria-label="泥洼"><text x="329.1" y="544.7" font-size="6.1" fill="#1a1a1a" stroke="#1a1a1a" stroke-width="0.13">泥洼</text><text x="329.1" y="548.6" font-size="3.5" fill="#1a1a1a" text-anchor="start">Niwa</text></g><g aria-label="西局"><text x="328.77" y="526.3" font-size="6.1" fill="#1a1a1a" stroke="#1a1a1a" stroke-width="0.13">西局</text><text x="328.77" y="530.2" font-size="3.5" fill="#1a1a1a" text-anchor="start">Xiju</text></g><g aria-label="六里桥"><text x="303.22" y="501.4" font-size="6.1" fill="#1a1a1a" stroke="#1a1a1a" stroke-width="0.13">六里桥</text><text x="321.52" y="505.3" font-size="3.5" fill="#1a1a1a" text-anchor="end">Liuliqiao</text></g><g aria-label="莲花桥"><text x="302.6" y="483.2" font-size="6.1" fill="#1a1a1a" stroke="#1a1a1a" stroke-width="0.13">莲花桥</text><text x="320.9" y="487.1" font-size="3.5" fill="#1a1a1a" text-anchor="end">Lianhuaqiao</text></g><g aria-label="公主坟"><text x="302.3" y="467.72" font-size="6.1" fill="#0b5c42" font-weight="bold">公主坟</text><text x="320.6" y="471.22" font-size="3.3" fill="#0b5c42" text-anchor="end" font-weight="bold">Gongzhufen</text></g><g aria-label="西钓鱼台"><text x="281.5" y="440.2" font-size="6.1" fill="#8a8a8a">西钓鱼台</text><text x="305.9" y="444.1" font-size="3.5" fill="#9c9c9c" text-anchor="end">Xidiaoyutai</text></g><g aria-label="慈寿寺"><text x="280.3" y="430.72" font-size="6.1" fill="#0b5c42" font-weight="bold">慈寿寺</text><text x="298.6" y="434.22" font-size="3.3" fill="#0b5c42" text-anchor="end" font-weight="bold">Cishousi</text></g><g aria-label="车道沟"><text x="280.8" y="385.6" font-size="6.1" fill="#1a1a1a" stroke="#1a1a1a" stroke-width="0.13">车道沟</text><text x="299.1" y="389.5" font-size="3.5" fill="#1a1a1a" text-anchor="end">Chedaogou</text></g><g aria-label="长春桥"><text x="280.8" y="368.2" font-size="6.1" fill="#1a1a1a" stroke="#1a1a1a" stroke-width="0.13">长春桥</text><text x="299.1" y="372.1" font-size="3.5" fill="#1a1a1a" text-anchor="end">Changchunqiao</text></g><g aria-label="火器营"><text x="280.8" y="355.8" font-size="6.1" fill="#0b5c42" font-weight="bold">火器营</text><text x="299.1" y="359.3" font-size="3.3" fill="#0b5c42" text-anchor="end" font-weight="bold">Huoqiying</text></g><g aria-label="清河站"><text x="385.3" y="273.2" font-size="6.1" fill="#1a1a1a" stroke="#1a1a1a" stroke-width="0.13">清河站</text><text x="403.6" y="277.1" font-size="3.5" fill="#1a1a1a" text-anchor="end">Qinghe Zhan</text><text x="403.6" y="280.3" font-size="2.8" fill="#1a1a1a" text-anchor="end">(Qinghe Railway Station)</text></g><g aria-label="上地"><text x="395.3" y="287.2" font-size="6.1" fill="#1a1a1a" stroke="#1a1a1a" stroke-width="0.13">上地</text><text x="407.5" y="291.1" font-size="3.5" fill="#1a1a1a" text-anchor="end">Shangdi</text></g><g aria-label="五道口"><text x="389.2" y="317.2" font-size="6.1" fill="#1a1a1a" stroke="#1a1a1a" stroke-width="0.13">五道口</text><text x="407.5" y="321.1" font-size="3.5" fill="#1a1a1a" text-anchor="end">Wudaokou</text></g><g aria-label="大钟寺"><text x="389" y="364.3" font-size="6.1" fill="#1a1a1a" stroke="#1a1a1a" stroke-width="0.13">大钟寺</text><text x="407.3" y="368.2" font-size="3.5" fill="#1a1a1a" text-anchor="end">Dazhongsi</text></g><g aria-label="龙泽"><text x="423.1" y="243" font-size="6.1" fill="#8a8a8a">龙泽</text><text x="429.2" y="246.9" font-size="3.5" fill="#9c9c9c" text-anchor="middle">Longze</text></g><g aria-label="回龙观"><text x="444.85" y="260.12" font-size="6.1" fill="#8a8a8a">回龙观</text><text x="454" y="264.02" font-size="3.5" fill="#9c9c9c" text-anchor="middle">Huilongguan</text></g><g aria-label="霍营"><text x="498.38" y="242.9" font-size="6.1" fill="#8a8a8a">霍营</text><text x="498.38" y="246.8" font-size="3.5" fill="#9c9c9c" text-anchor="start">Huoying</text></g><g aria-label="立水桥"><text x="538.03" y="242.9" font-size="6.1" fill="#8a8a8a">立水桥</text><text x="556.33" y="246.8" font-size="3.5" fill="#9c9c9c" text-anchor="end">Lishuiqiao</text></g><g aria-label="北苑"><text x="612.1" y="271.6" font-size="6.1" fill="#8a8a8a">北苑</text><text x="612.1" y="275.5" font-size="3.5" fill="#9c9c9c" text-anchor="start">Beiyuan</text></g><g aria-label="望京西"><text x="612.38" y="297.3" font-size="6.1" fill="#8a8a8a">望京西</text><text x="612.38" y="301.2" font-size="3.5" fill="#9c9c9c" text-anchor="start">Wangjingxi</text></g><g aria-label="光熙门"><text x="612.1" y="362.8" font-size="6.1" fill="#8a8a8a">光熙门</text><text x="612.1" y="366.7" font-size="3.5" fill="#9c9c9c" text-anchor="start">Guangximen</text></g><g aria-label="柳芳"><text x="612.1" y="377.2" font-size="6.1" fill="#8a8a8a">柳芳</text><text x="612.1" y="381.1" font-size="3.5" fill="#9c9c9c" text-anchor="start">Liufang</text></g><g aria-label="东直门"><text x="574.53" y="389.4" font-size="6.1" fill="#8a8a8a">东直门</text><text x="592.83" y="393.3" font-size="3.5" fill="#9c9c9c" text-anchor="end">Dongzhimen</text></g><g aria-label="育知路"><text x="437.45" y="217.4" font-size="6.1" fill="#8a8a8a">育知路</text><text x="446.6" y="221.3" font-size="3.5" fill="#9c9c9c" text-anchor="middle">Yuzhi Lu</text></g><g aria-label="平西府"><text x="465.85" y="217.4" font-size="6.1" fill="#8a8a8a">平西府</text><text x="475" y="221.3" font-size="3.5" fill="#9c9c9c" text-anchor="middle">Pingxifu</text></g><g aria-label="回龙观东大街"><text x="453.3" y="236.2" font-size="6.1" fill="#8a8a8a">回龙观东大街</text><text x="489.9" y="240.1" font-size="3.5" fill="#9c9c9c" text-anchor="end">Huilongguan Dongdajie</text></g><g aria-label="育新"><text x="477.3" y="261.2" font-size="6.1" fill="#8a8a8a">育新</text><text x="489.5" y="265.1" font-size="3.5" fill="#9c9c9c" text-anchor="end">Yuxin</text></g><g aria-label="西小口"><text x="498.1" y="269.2" font-size="6.1" fill="#0b5c42" font-weight="bold">西小口</text><text x="498.1" y="272.7" font-size="3.3" fill="#0b5c42" text-anchor="start" font-weight="bold">Xixiaokou</text></g><g aria-label="永泰庄"><text x="471.2" y="278.2" font-size="6.1" fill="#1a1a1a" stroke="#1a1a1a" stroke-width="0.13">永泰庄</text><text x="489.5" y="282.1" font-size="3.5" fill="#1a1a1a" text-anchor="end">Yongtaizhuang</text></g><g aria-label="林萃桥"><text x="478.2" y="293.1" font-size="6.1" fill="#0b5c42" font-weight="bold">林萃桥</text><text x="496.5" y="296.6" font-size="3.3" fill="#0b5c42" text-anchor="end" font-weight="bold">Lincuiqiao</text></g><g aria-label="森林公园南门"><text x="511.5" y="289.6" font-size="6.1" fill="#8a8a8a">森林公园南门</text><text x="511.5" y="293.5" font-size="3.5" fill="#9c9c9c" text-anchor="start">Senlin Gongyuan Nanmen</text><text x="511.5" y="296.7" font-size="2.8" fill="#9c9c9c" text-anchor="start">(Forest Park South Gate)</text></g><g aria-label="奥林匹克公园"><text x="470.55" y="314.57" font-size="6.1" fill="#8a8a8a">奥林匹克公园</text><text x="507.15" y="318.47" font-size="3.5" fill="#9c9c9c" text-anchor="end">Aolinpike Gongyuan</text><text x="507.15" y="321.67" font-size="3.5" fill="#9c9c9c" text-anchor="end">(Olympic Park)</text></g><g aria-label="奥体中心"><text x="514.1" y="324.2" font-size="6.1" fill="#8a8a8a">奥体中心</text><text x="514.1" y="328.1" font-size="3.5" fill="#9c9c9c" text-anchor="start">Aoti Zhongxin</text><text x="514.1" y="331.3" font-size="2.8" fill="#9c9c9c" text-anchor="start">(Olympic Sports Center)</text></g><g aria-label="安华桥"><text x="487.6" y="356.7" font-size="6.1" fill="#8a8a8a">安华桥</text><text x="505.9" y="360.6" font-size="3.5" fill="#9c9c9c" text-anchor="end">Anhuaqiao</text></g><g aria-label="安德里北街"><text x="514.1" y="363.8" font-size="6.1" fill="#8a8a8a">安德里北街</text><text x="514.1" y="367.7" font-size="3.5" fill="#9c9c9c" text-anchor="start">Andelibeijie</text></g><g aria-label="鼓楼大街"><text x="481" y="372.8" font-size="6.1" fill="#0b5c42" font-weight="bold">鼓楼大街</text><text x="505.4" y="376.3" font-size="3.3" fill="#0b5c42" text-anchor="end" font-weight="bold">Gulou Dajie</text></g><g aria-label="什刹海"><text x="514.1" y="402.2" font-size="6.1" fill="#8a8a8a">什刹海</text><text x="514.1" y="406.1" font-size="3.5" fill="#9c9c9c" text-anchor="start">Shichahai</text></g><g aria-label="南锣鼓巷"><text x="525.77" y="412.9" font-size="6.1" fill="#8a8a8a">南锣鼓巷</text><text x="525.77" y="416.8" font-size="3.5" fill="#9c9c9c" text-anchor="start">Nanluoguxiang</text></g><g aria-label="中国美术馆"><text x="498.4" y="434.3" font-size="6.1" fill="#8a8a8a">中国美术馆</text><text x="528.9" y="438.2" font-size="3.5" fill="#9c9c9c" text-anchor="end">Zhongguo Meishuguan</text><text x="528.9" y="441.4" font-size="2.8" fill="#9c9c9c" text-anchor="end">(National Art Museum)</text></g><g aria-label="金鱼胡同"><text x="540.2" y="446.2" font-size="4.5" fill="#8a8a8a">金鱼胡同</text><text x="540.2" y="450.1" font-size="3.5" fill="#9c9c9c" text-anchor="start">Jinyu Hutong</text></g><g aria-label="王府井"><text x="539.85" y="465.83" font-size="4.5" fill="#8a8a8a">王府井</text><text x="539.85" y="469.73" font-size="3.5" fill="#9c9c9c" text-anchor="start">Wangfujing</text></g><g aria-label="前门"><text x="502.43" y="476.3" font-size="6.1" fill="#8a8a8a">前门</text><text x="514.62" y="480.2" font-size="3.5" fill="#9c9c9c" text-anchor="end">Qianmen</text></g><g aria-label="珠市口"><text x="514.25" y="513.57" font-size="6.1" fill="#8a8a8a">珠市口</text><text x="514.25" y="517.47" font-size="3.5" fill="#9c9c9c" text-anchor="start">Zhushikou</text></g><g aria-label="天桥"><text x="494.1" y="518.2" font-size="6.1" fill="#8a8a8a">天桥</text><text x="506.3" y="522.1" font-size="3.5" fill="#9c9c9c" text-anchor="end">Tianqiao</text></g><g aria-label="永定门外"><text x="513.7" y="525.8" font-size="6.1" fill="#0b5c42" font-weight="bold">永定门外</text><text x="513.7" y="529.3" font-size="3.3" fill="#0b5c42" text-anchor="start" font-weight="bold">Yongdingmenwai</text></g><g aria-label="木樨园"><text x="514.1" y="547.8" font-size="6.1" fill="#1a1a1a" stroke="#1a1a1a" stroke-width="0.13">木樨园</text><text x="514.1" y="551.7" font-size="3.5" fill="#1a1a1a" text-anchor="start">Muxiyuan</text></g><g aria-label="海户屯"><text x="514.1" y="558.2" font-size="6.1" fill="#1a1a1a" stroke="#1a1a1a" stroke-width="0.13">海户屯</text><text x="514.1" y="562.1" font-size="3.5" fill="#1a1a1a" text-anchor="start">Haihutun</text></g><g aria-label="大红门南"><text x="514.1" y="588.7" font-size="6.1" fill="#1a1a1a" stroke="#1a1a1a" stroke-width="0.13">大红门南</text><text x="514.1" y="592.6" font-size="3.5" fill="#1a1a1a" text-anchor="start">Dahongmennan</text></g><g aria-label="和义"><text x="493.7" y="605.6" font-size="6.1" fill="#1a1a1a" stroke="#1a1a1a" stroke-width="0.13">和义</text><text x="505.9" y="609.5" font-size="3.5" fill="#1a1a1a" text-anchor="end">Heyi</text></g><g aria-label="东高地"><text x="519.5" y="621.2" font-size="6.1" fill="#1a1a1a" stroke="#1a1a1a" stroke-width="0.13">东高地</text><text x="519.5" y="625.1" font-size="3.5" fill="#1a1a1a" text-anchor="start">Donggaodi</text></g><g aria-label="火箭万源"><text x="499.1" y="642.8" font-size="6.1" fill="#1a1a1a" stroke="#1a1a1a" stroke-width="0.13">火箭万源</text><text x="523.5" y="646.7" font-size="3.5" fill="#1a1a1a" text-anchor="end">Huojian Wanyuan</text></g><g aria-label="五福堂"><text x="517.6" y="655.2" font-size="6.1" fill="#0b5c42" font-weight="bold">五福堂</text><text x="535.9" y="658.7" font-size="3.3" fill="#0b5c42" text-anchor="end" font-weight="bold">Wufutang</text></g><g aria-label="德茂"><text x="536.3" y="667.8" font-size="6.1" fill="#8a8a8a">德茂</text><text x="548.5" y="671.7" font-size="3.5" fill="#9c9c9c" text-anchor="end">Demao</text></g><g aria-label="瀛海"><text x="558.9" y="683.72" font-size="6.1" fill="#8a8a8a">瀛海</text><text x="565" y="687.62" font-size="3.5" fill="#9c9c9c" text-anchor="middle">Yinghai</text></g><g aria-label="天通苑北"><text x="564.8" y="212.2" font-size="6.1" fill="#8a8a8a">天通苑北</text><text x="564.8" y="216.1" font-size="3.5" fill="#9c9c9c" text-anchor="start">Tiantongyuanbei</text></g><g aria-label="天通苑"><text x="538.3" y="224.6" font-size="6.1" fill="#8a8a8a">天通苑</text><text x="556.6" y="228.5" font-size="3.5" fill="#9c9c9c" text-anchor="end">Tiantongyuan</text></g><g aria-label="天通苑南"><text x="564.8" y="236.8" font-size="6.1" fill="#8a8a8a">天通苑南</text><text x="564.8" y="240.7" font-size="3.5" fill="#9c9c9c" text-anchor="start">Tiantongyuannan</text></g><g aria-label="立水桥南"><text x="564.8" y="270.2" font-size="6.1" fill="#8a8a8a">立水桥南</text><text x="564.8" y="274.1" font-size="3.5" fill="#9c9c9c" text-anchor="start">Lishuiqiaonan</text></g><g aria-label="北苑路北"><text x="565.2" y="286.6" font-size="6.1" fill="#0b5c42" font-weight="bold">北苑路北</text><text x="565.2" y="290.1" font-size="3.3" fill="#0b5c42" text-anchor="start" font-weight="bold">Beiyuanlubei</text></g><g aria-label="大屯路东"><text x="565.08" y="297.3" font-size="6.1" fill="#1a1a1a" stroke="#1a1a1a" stroke-width="0.13">大屯路东</text><text x="565.08" y="301.2" font-size="3.5" fill="#1a1a1a" text-anchor="start">Datunludong</text></g><g aria-label="惠新西街北口"><text x="564.8" y="324.4" font-size="5.6" fill="#1a1a1a" stroke="#1a1a1a" stroke-width="0.12">惠新西街北口</text><text x="564.8" y="328.3" font-size="3.5" fill="#1a1a1a" text-anchor="start">Huixin Xijie Beikou</text></g><g aria-label="和平西桥"><text x="564.8" y="357.2" font-size="6.1" fill="#1a1a1a" stroke="#1a1a1a" stroke-width="0.13">和平西桥</text><text x="564.8" y="361.1" font-size="3.5" fill="#1a1a1a" text-anchor="start">Hepingxiqiao</text></g><g aria-label="和平里北街"><text x="565.2" y="368.4" font-size="6.1" fill="#0b5c42" font-weight="bold">和平里北街</text><text x="565.2" y="371.9" font-size="3.3" fill="#0b5c42" text-anchor="start" font-weight="bold">Hepingli Beijie</text></g><g aria-label="雍和宫"><text x="537.55" y="390.47" font-size="6.1" fill="#8a8a8a">雍和宫</text><text x="555.85" y="394.37" font-size="3.5" fill="#9c9c9c" text-anchor="end">Yonghegong</text><text x="555.85" y="397.57" font-size="3.5" fill="#9c9c9c" text-anchor="end">Lama Temple</text></g><g aria-label="北新桥"><text x="564.3" y="403.7" font-size="6.1" fill="#8a8a8a">北新桥</text><text x="564.3" y="407.6" font-size="3.5" fill="#9c9c9c" text-anchor="start">Beixinqiao</text></g><g aria-label="张自忠路"><text x="564.9" y="415" font-size="6.1" fill="#8a8a8a">张自忠路</text><text x="564.9" y="418.9" font-size="3.5" fill="#9c9c9c" text-anchor="start">Zhangzizhong Lu</text></g><g aria-label="东四"><text x="565.17" y="426.6" font-size="6.1" fill="#8a8a8a">东四</text><text x="565.17" y="430.5" font-size="3.5" fill="#9c9c9c" text-anchor="start">Dongsi</text></g><g aria-label="灯市口"><text x="564.9" y="446" font-size="6.1" fill="#8a8a8a">灯市口</text><text x="564.9" y="449.9" font-size="3.5" fill="#9c9c9c" text-anchor="start">Dengshikou</text></g><g aria-label="东单"><text x="564.65" y="466.97" font-size="6.1" fill="#8a8a8a">东单</text><text x="564.65" y="470.87" font-size="3.5" fill="#9c9c9c" text-anchor="start">Dongdan</text></g><g aria-label="崇文门"><text x="564.98" y="476.3" font-size="6.1" fill="#8a8a8a">崇文门</text><text x="564.98" y="480.2" font-size="3.5" fill="#9c9c9c" text-anchor="start">Chongwenmen</text></g><g aria-label="磁器口"><text x="538.45" y="513.57" font-size="6.1" fill="#8a8a8a">磁器口</text><text x="556.75" y="517.47" font-size="3.5" fill="#9c9c9c" text-anchor="end">Ciqikou</text></g><g aria-label="天坛东门"><text x="565.1" y="514.3" font-size="6.1" fill="#0b5c42" font-weight="bold">天坛东门</text><text x="565.1" y="517.8" font-size="2.6" fill="#0b5c42" text-anchor="start" font-weight="bold">Tiantan Dongmen</text><text x="565.1" y="521" font-size="2.6" fill="#0b5c42" text-anchor="start" font-weight="bold">(Temple of Heaven East Gate)</text></g><g aria-label="蒲黄榆"><text x="564.77" y="526.5" font-size="6.1" fill="#1a1a1a" stroke="#1a1a1a" stroke-width="0.13">蒲黄榆</text><text x="564.77" y="530.4" font-size="3.5" fill="#1a1a1a" text-anchor="start">Puhuangyu</text></g><g aria-label="刘家窑"><text x="564.5" y="547.8" font-size="6.1" fill="#1a1a1a" stroke="#1a1a1a" stroke-width="0.13">刘家窑</text><text x="564.5" y="551.7" font-size="3.5" fill="#1a1a1a" text-anchor="start">Liujiayao</text></g><g aria-label="金安桥"><text x="129.82" y="429.5" font-size="6.1" fill="#8a8a8a">金安桥</text><text x="148.12" y="433.4" font-size="3.5" fill="#9c9c9c" text-anchor="end">Jin&#x27;anqiao</text></g><g aria-label="苹果园"><text x="161.95" y="449.82" font-size="6.1" fill="#8a8a8a">苹果园</text><text x="171.1" y="453.72" font-size="3.5" fill="#9c9c9c" text-anchor="middle">Pingguoyuan</text></g><g aria-label="杨庄"><text x="196.1" y="434.6" font-size="6.1" fill="#8a8a8a">杨庄</text><text x="196.1" y="438.5" font-size="3.5" fill="#9c9c9c" text-anchor="start">Yangzhuang</text></g><g aria-label="西黄村"><text x="200.45" y="413" font-size="6.1" fill="#8a8a8a">西黄村</text><text x="209.6" y="416.9" font-size="3.5" fill="#9c9c9c" text-anchor="middle">Xihuangcun</text></g><g aria-label="廖公庄"><text x="225.05" y="430.12" font-size="6.1" fill="#8a8a8a">廖公庄</text><text x="234.2" y="434.02" font-size="3.5" fill="#9c9c9c" text-anchor="middle">Liaogongzhuang</text></g><g aria-label="田村"><text x="252.5" y="413" font-size="6.1" fill="#8a8a8a">田村</text><text x="258.6" y="416.9" font-size="3.5" fill="#9c9c9c" text-anchor="middle">Tiancun</text></g><g aria-label="海淀五路居"><text x="268.6" y="413" font-size="5.6" fill="#8a8a8a">海淀五路居</text><text x="282.6" y="416.9" font-size="3.5" fill="#9c9c9c" text-anchor="middle">Haidian Wuluju</text></g><g aria-label="花园桥"><text x="317.85" y="413" font-size="6.1" fill="#1a1a1a" stroke="#1a1a1a" stroke-width="0.13">花园桥</text><text x="327" y="416.9" font-size="3.5" fill="#1a1a1a" text-anchor="middle">Huayuanqiao</text></g><g aria-label="白石桥南"><text x="353.2" y="412.2" font-size="6.1" fill="#0b5c42" font-weight="bold">白石桥南</text><text x="353.2" y="415.7" font-size="3.3" fill="#0b5c42" text-anchor="start" font-weight="bold">Baishiqiaonan</text></g><g aria-label="车公庄西"><text x="391.8" y="413" font-size="6.1" fill="#8a8a8a">车公庄西</text><text x="404" y="416.9" font-size="3.5" fill="#9c9c9c" text-anchor="middle">Chegongzhuangxi</text></g><g aria-label="车公庄"><text x="401.5" y="430.72" font-size="6.1" fill="#0b5c42" font-weight="bold">车公庄</text><text x="419.8" y="434.22" font-size="3.3" fill="#0b5c42" text-anchor="end" font-weight="bold">Chegongzhuang</text></g><g aria-label="北海北"><text x="480.25" y="413" font-size="6.1" fill="#8a8a8a">北海北</text><text x="489.4" y="416.9" font-size="3.5" fill="#9c9c9c" text-anchor="middle">Beihaibei</text></g><g aria-label="东大桥"><text x="613.85" y="442.72" font-size="6.1" fill="#8a8a8a">东大桥</text><text x="623" y="446.62" font-size="3.5" fill="#9c9c9c" text-anchor="middle">Dongdaqiao</text></g><g aria-label="朝阳门"><text x="602.08" y="425.6" font-size="6.1" fill="#8a8a8a">朝阳门</text><text x="602.08" y="429.5" font-size="3.5" fill="#9c9c9c" text-anchor="start">Chaoyangmen</text></g><g aria-label="东四十条"><text x="601.6" y="416.2" font-size="6.1" fill="#8a8a8a">东四十条</text><text x="601.6" y="420.1" font-size="3.5" fill="#9c9c9c" text-anchor="start">Dongsi Shitiao</text></g><g aria-label="十里堡"><text x="701.9" y="425.6" font-size="5.4" fill="#0b5c42" font-weight="bold">十里堡</text><text x="710" y="429.1" font-size="3.3" fill="#0b5c42" text-anchor="middle" font-weight="bold">Shilipu</text></g><g aria-label="青年路"><text x="720.25" y="425.6" font-size="6.1" fill="#1a1a1a" stroke="#1a1a1a" stroke-width="0.13">青年路</text><text x="729.4" y="429.5" font-size="3.5" fill="#1a1a1a" text-anchor="middle">Qingnian Lu</text></g><g aria-label="褡裢坡"><text x="763.25" y="425.6" font-size="6.1" fill="#0b5c42" font-weight="bold">褡裢坡</text><text x="772.4" y="429.1" font-size="3.3" fill="#0b5c42" text-anchor="middle" font-weight="bold">Dalianpo</text></g><g aria-label="黄渠"><text x="781.5" y="442.52" font-size="6.1" fill="#8a8a8a">黄渠</text><text x="787.6" y="446.42" font-size="3.5" fill="#9c9c9c" text-anchor="middle">Huangqu</text></g><g aria-label="常营"><text x="797.5" y="425.4" font-size="6.1" fill="#0b5c42" font-weight="bold">常营</text><text x="803.6" y="428.9" font-size="3.3" fill="#0b5c42" text-anchor="middle" font-weight="bold">Changying</text></g><g aria-label="草房"><text x="815.5" y="442.52" font-size="6.1" fill="#1a1a1a" stroke="#1a1a1a" stroke-width="0.13">草房</text><text x="821.6" y="446.42" font-size="3.5" fill="#1a1a1a" text-anchor="middle">Caofang</text></g><g aria-label="物资学院路"><text x="823.15" y="425.4" font-size="6.1" fill="#0b5c42" font-weight="bold">物资学院路</text><text x="838.4" y="428.9" font-size="3.3" fill="#0b5c42" text-anchor="middle" font-weight="bold">Wuzixueyuan Lu</text></g><g aria-label="通州北关"><text x="863.1" y="433.8" font-size="6.1" fill="#8a8a8a">通州北关</text><text x="863.1" y="437.7" font-size="3.5" fill="#9c9c9c" text-anchor="start">Tongzhou Beiguan</text></g><g aria-label="通运门"><text x="878.1" y="445.2" font-size="6.1" fill="#8a8a8a">通运门</text><text x="878.1" y="449.1" font-size="3.5" fill="#9c9c9c" text-anchor="start">Tongyunmen</text><text x="878.1" y="452.3" font-size="2.9" fill="#9c9c9c">(暂缓开通)</text></g><g aria-label="北运河西"><text x="865.3" y="474.32" font-size="6.1" fill="#1a1a1a" stroke="#1a1a1a" stroke-width="0.13">北运河西</text><text x="889.7" y="478.22" font-size="3.5" fill="#1a1a1a" text-anchor="end">Beiyunhexi</text></g><g aria-label="北运河东"><text x="894.9" y="477.22" font-size="6.1" fill="#1a1a1a" stroke="#1a1a1a" stroke-width="0.13">北运河东</text><text x="907.1" y="481.12" font-size="3.5" fill="#1a1a1a" text-anchor="middle">Beiyunhedong</text></g><g aria-label="郝家府"><text x="912.85" y="459.6" font-size="6.1" fill="#0b5c42" font-weight="bold">郝家府</text><text x="922" y="463.1" font-size="3.3" fill="#0b5c42" text-anchor="middle" font-weight="bold">Haojiafu</text></g><g aria-label="东夏园"><text x="927.85" y="476.72" font-size="6.1" fill="#8a8a8a">东夏园</text><text x="937" y="480.62" font-size="3.5" fill="#9c9c9c" text-anchor="middle">Dongxiayuan</text></g><g aria-label="潞城"><text x="945.9" y="459.6" font-size="6.1" fill="#8a8a8a">潞城</text><text x="952" y="463.5" font-size="3.5" fill="#9c9c9c" text-anchor="middle">Lucheng</text></g><g aria-label="古城"><text x="191.9" y="467.12" font-size="6.1" fill="#8a8a8a">古城</text><text x="198" y="471.02" font-size="3.5" fill="#9c9c9c" text-anchor="middle">Gucheng</text></g><g aria-label="八角游乐园"><text x="204.15" y="450" font-size="6.1" fill="#8a8a8a">八角游乐园</text><text x="219.4" y="453.9" font-size="3.5" fill="#9c9c9c" text-anchor="middle">Bajiao Youleyuan</text></g><g aria-label="八宝山"><text x="231.25" y="467.12" font-size="6.1" fill="#8a8a8a">八宝山</text><text x="240.4" y="471.02" font-size="3.5" fill="#9c9c9c" text-anchor="middle">Babaoshan</text></g><g aria-label="玉泉路"><text x="252.45" y="450" font-size="6.1" fill="#8a8a8a">玉泉路</text><text x="261.6" y="453.9" font-size="3.5" fill="#9c9c9c" text-anchor="middle">Yuquan Lu</text></g><g aria-label="五棵松"><text x="273.45" y="467.12" font-size="6.1" fill="#8a8a8a">五棵松</text><text x="282.6" y="471.02" font-size="3.5" fill="#9c9c9c" text-anchor="middle">Wukesong</text></g><g aria-label="万寿路"><text x="294.85" y="450" font-size="6.1" fill="#8a8a8a">万寿路</text><text x="304" y="453.9" font-size="3.5" fill="#9c9c9c" text-anchor="middle">Wanshou Lu</text></g><g aria-label="军事博物馆"><text x="352.15" y="466.17" font-size="4.9" fill="#8a8a8a">军事博物馆</text><text x="352.15" y="470.07" font-size="3.5" fill="#9c9c9c" text-anchor="start">Junshi Bowuguan</text><text x="352.15" y="473.27" font-size="2.8" fill="#9c9c9c" text-anchor="start">(Military Museum)</text></g><g aria-label="木樨地"><text x="378.85" y="467.12" font-size="6.1" fill="#8a8a8a">木樨地</text><text x="388" y="471.02" font-size="3.5" fill="#9c9c9c" text-anchor="middle">Muxidi</text></g><g aria-label="南礼士路"><text x="391.4" y="450" font-size="6.1" fill="#8a8a8a">南礼士路</text><text x="403.6" y="453.9" font-size="3.5" fill="#9c9c9c" text-anchor="middle">Nanlishi Lu</text></g><g aria-label="复兴门"><text x="401.45" y="467.17" font-size="6.1" fill="#8a8a8a">复兴门</text><text x="419.75" y="471.07" font-size="3.5" fill="#9c9c9c" text-anchor="end">Fuxingmen</text></g><g aria-label="阜成门"><text x="401.2" y="439.8" font-size="6.1" fill="#8a8a8a">阜成门</text><text x="419.5" y="443.7" font-size="3.5" fill="#9c9c9c" text-anchor="end">Fuchengmen</text></g><g aria-label="长椿街"><text x="406.1" y="488.2" font-size="6.1" fill="#8a8a8a">长椿街</text><text x="424.4" y="492.1" font-size="3.5" fill="#9c9c9c" text-anchor="end">Changchunjie</text></g><g aria-label="和平门"><text x="470.25" y="476.4" font-size="6.1" fill="#8a8a8a">和平门</text><text x="479.4" y="480.3" font-size="3.5" fill="#9c9c9c" text-anchor="middle">Hepingmen</text></g><g aria-label="北京站"><text x="600.4" y="481.2" font-size="6.1" fill="#8a8a8a">北京站</text><text x="600.4" y="485.1" font-size="3.5" fill="#9c9c9c" text-anchor="start">Beijing Zhan</text><text x="600.4" y="488.3" font-size="2.8" fill="#9c9c9c" text-anchor="start">(Beijing Railway Station)</text></g><g aria-label="建国门"><text x="602.9" y="451.8" font-size="6.1" fill="#0b5c42" font-weight="bold">建国门</text><text x="602.9" y="455.3" font-size="3.3" fill="#0b5c42" text-anchor="start" font-weight="bold">Jianguomen</text></g><g aria-label="安定门"><text x="525.85" y="373.5" font-size="6.1" fill="#8a8a8a">安定门</text><text x="535" y="377.4" font-size="3.5" fill="#9c9c9c" text-anchor="middle">Andingmen</text></g><g aria-label="天安门西"><text x="482.9" y="466.45" font-size="5.3" fill="#8a8a8a">天安门西</text><text x="493.5" y="470.35" font-size="3.5" fill="#9c9c9c" text-anchor="middle">Tian&#x27;anmenxi</text></g><g aria-label="天安门东"><text x="509.4" y="466.45" font-size="5.3" fill="#8a8a8a">天安门东</text><text x="520" y="470.35" font-size="3.5" fill="#9c9c9c" text-anchor="middle">Tian&#x27;anmendong</text></g><g aria-label="永安里"><text x="613.85" y="467.12" font-size="6.1" fill="#1a1a1a" stroke="#1a1a1a" stroke-width="0.13">永安里</text><text x="623" y="471.02" font-size="3.5" fill="#1a1a1a" text-anchor="middle">Yong&#x27;anli</text></g><g aria-label="四惠"><text x="702.5" y="450" font-size="6.1" fill="#1a1a1a" stroke="#1a1a1a" stroke-width="0.13">四惠</text><text x="708.6" y="453.9" font-size="3.5" fill="#1a1a1a" text-anchor="middle">Sihui</text></g><g aria-label="四惠东"><text x="718.25" y="450" font-size="6.1" fill="#1a1a1a" stroke="#1a1a1a" stroke-width="0.13">四惠东</text><text x="727.4" y="453.9" font-size="3.5" fill="#1a1a1a" text-anchor="middle">Sihuidong</text></g><g aria-label="高碑店"><text x="737.85" y="467.12" font-size="6.1" fill="#1a1a1a" stroke="#1a1a1a" stroke-width="0.13">高碑店</text><text x="747" y="471.02" font-size="3.5" fill="#1a1a1a" text-anchor="middle">Gaobeidian</text></g><g aria-label="传媒大学"><text x="752.8" y="443.6" font-size="6.1" fill="#1a1a1a" stroke="#1a1a1a" stroke-width="0.13">传媒大学</text><text x="765" y="447.5" font-size="3.5" fill="#1a1a1a" text-anchor="middle">Chuanmei Daxue</text><text x="765" y="450.7" font-size="3.5" fill="#1a1a1a" text-anchor="middle">(Communication</text><text x="765" y="453.9" font-size="3.5" fill="#1a1a1a" text-anchor="middle">Univ. of China)</text></g><g aria-label="双桥"><text x="777.9" y="467.32" font-size="6.1" fill="#1a1a1a" stroke="#1a1a1a" stroke-width="0.13">双桥</text><text x="784" y="471.22" font-size="3.5" fill="#1a1a1a" text-anchor="middle">Shuangqiao</text></g><g aria-label="管庄"><text x="796.5" y="450.4" font-size="6.1" fill="#1a1a1a" stroke="#1a1a1a" stroke-width="0.13">管庄</text><text x="802.6" y="454.3" font-size="3.5" fill="#1a1a1a" text-anchor="middle">Guanzhuang</text></g><g aria-label="八里桥"><text x="809.45" y="467.52" font-size="6.1" fill="#1a1a1a" stroke="#1a1a1a" stroke-width="0.13">八里桥</text><text x="818.6" y="471.42" font-size="3.5" fill="#1a1a1a" text-anchor="middle">Baliqiao</text></g><g aria-label="通州北苑"><text x="840.1" y="459.2" font-size="6.1" fill="#0b5c42" font-weight="bold">通州北苑</text><text x="840.1" y="462.7" font-size="3.3" fill="#0b5c42" text-anchor="start" font-weight="bold">Tongzhou Beiyuan</text></g><g aria-label="果园"><text x="828.7" y="476.4" font-size="6.1" fill="#8a8a8a">果园</text><text x="840.9" y="480.3" font-size="3.5" fill="#9c9c9c" text-anchor="end">Guoyuan</text></g><g aria-label="九棵树"><text x="832.2" y="487.2" font-size="6.1" fill="#8a8a8a">九棵树</text><text x="850.5" y="491.1" font-size="3.5" fill="#9c9c9c" text-anchor="end">Jiukeshu</text></g><g aria-label="梨园"><text x="847.7" y="496.8" font-size="6.1" fill="#8a8a8a">梨园</text><text x="859.9" y="500.7" font-size="3.5" fill="#9c9c9c" text-anchor="end">Liyuan</text></g><g aria-label="临河里"><text x="877.1" y="496.2" font-size="6.1" fill="#8a8a8a">临河里</text><text x="877.1" y="500.1" font-size="3.5" fill="#9c9c9c" text-anchor="start">Linheli</text></g><g aria-label="土桥"><text x="886.1" y="507.6" font-size="5.2" fill="#8a8a8a">土桥</text><text x="886.1" y="511.5" font-size="3.5" fill="#9c9c9c" text-anchor="start">Tuqiao</text></g><g aria-label="花庄"><text x="890.1" y="552.7" font-size="6.1" fill="#0b5c42" font-weight="bold">花庄</text><text x="890.1" y="556.2" font-size="3.3" fill="#0b5c42" text-anchor="start" font-weight="bold">Huazhuang</text></g><g aria-label="环球度假区"><text x="823.8" y="564.6" font-size="6.1" fill="#1a1a1a" stroke="#1a1a1a" stroke-width="0.13">环球度假区</text><text x="854.3" y="568.5" font-size="3.5" fill="#1a1a1a" text-anchor="end">Huanqiu Dujiaqu</text><text x="854.3" y="571.7" font-size="2.8" fill="#1a1a1a" text-anchor="end">(Universal Resort)</text></g><g aria-label="湾子"><text x="363.9" y="513.52" font-size="6.1" fill="#8a8a8a">湾子</text><text x="370" y="517.42" font-size="3.5" fill="#9c9c9c" text-anchor="middle">Wanzi</text></g><g aria-label="达官营"><text x="378.85" y="513.52" font-size="6.1" fill="#8a8a8a">达官营</text><text x="388" y="517.42" font-size="3.5" fill="#9c9c9c" text-anchor="middle">Daguanying</text></g><g aria-label="广安门内"><text x="411.4" y="513.52" font-size="6.1" fill="#8a8a8a">广安门内</text><text x="423.6" y="517.42" font-size="3.5" fill="#9c9c9c" text-anchor="middle">Guang&#x27;anmennei</text></g><g aria-label="虎坊桥"><text x="478.25" y="496.4" font-size="6.1" fill="#8a8a8a">虎坊桥</text><text x="487.4" y="500.3" font-size="3.5" fill="#9c9c9c" text-anchor="middle">Hufangqiao</text></g><g aria-label="桥湾"><text x="531.3" y="496.4" font-size="6.1" fill="#8a8a8a">桥湾</text><text x="537.4" y="500.3" font-size="3.5" fill="#9c9c9c" text-anchor="middle">Qiaowan</text></g><g aria-label="广渠门内"><text x="575.3" y="496.4" font-size="6.1" fill="#0b5c42" font-weight="bold">广渠门内</text><text x="587.5" y="499.9" font-size="3.3" fill="#0b5c42" text-anchor="middle" font-weight="bold">Guangqumennei</text></g><g aria-label="广渠门外"><text x="600.8" y="513.52" font-size="6.1" fill="#1a1a1a" stroke="#1a1a1a" stroke-width="0.13">广渠门外</text><text x="613" y="517.42" font-size="3.5" fill="#1a1a1a" text-anchor="middle">Guangqumenwai</text></g><g aria-label="九龙山"><text x="654.62" y="496.3" font-size="6.1" fill="#1a1a1a" stroke="#1a1a1a" stroke-width="0.13">九龙山</text><text x="672.92" y="500.2" font-size="3.5" fill="#1a1a1a" text-anchor="end">Jiulongshan</text></g><g aria-label="大郊亭"><text x="686.55" y="496.4" font-size="6.1" fill="#1a1a1a" stroke="#1a1a1a" stroke-width="0.13">大郊亭</text><text x="695.7" y="500.3" font-size="3.5" fill="#1a1a1a" text-anchor="middle">Dajiaoting</text></g><g aria-label="百子湾"><text x="716" y="501" font-size="6.1" fill="#1a1a1a" stroke="#1a1a1a" stroke-width="0.13">百子湾</text><text x="716" y="504.9" font-size="3.5" fill="#1a1a1a" text-anchor="start">Baiziwan</text></g><g aria-label="化工"><text x="722.4" y="513.4" font-size="6.1" fill="#1a1a1a" stroke="#1a1a1a" stroke-width="0.13">化工</text><text x="722.4" y="517.3" font-size="3.5" fill="#1a1a1a" text-anchor="start">Huagong</text></g><g aria-label="南楼梓庄"><text x="722.4" y="523.5" font-size="6.1" fill="#1a1a1a" stroke="#1a1a1a" stroke-width="0.13">南楼梓庄</text><text x="722.4" y="527.4" font-size="3.5" fill="#1a1a1a" text-anchor="start">Nanlouzizhuang</text></g><g aria-label="欢乐谷景区"><text x="683.7" y="531.9" font-size="6.1" fill="#1a1a1a" stroke="#1a1a1a" stroke-width="0.13">欢乐谷景区</text><text x="714.2" y="535.8" font-size="3.5" fill="#1a1a1a" text-anchor="end">Huanlegu Jingqu</text><text x="714.2" y="539" font-size="3.5" fill="#1a1a1a" text-anchor="end">(Happy Valley)</text></g><g aria-label="垡头"><text x="719.4" y="550.52" font-size="6.1" fill="#1a1a1a" stroke="#1a1a1a" stroke-width="0.13">垡头</text><text x="725.5" y="554.42" font-size="3.5" fill="#1a1a1a" text-anchor="middle">Fatou</text></g><g aria-label="双合"><text x="737.2" y="533.5" font-size="6.1" fill="#1a1a1a" stroke="#1a1a1a" stroke-width="0.13">双合</text><text x="743.3" y="537.4" font-size="3.5" fill="#1a1a1a" text-anchor="middle">Shuanghe</text></g><g aria-label="焦化厂"><text x="751.85" y="550.72" font-size="6.1" fill="#1a1a1a" stroke="#1a1a1a" stroke-width="0.13">焦化厂</text><text x="761" y="554.62" font-size="3.5" fill="#1a1a1a" text-anchor="middle">Jiaohuachang</text></g><g aria-label="黄厂"><text x="770.3" y="533.6" font-size="6.1" fill="#1a1a1a" stroke="#1a1a1a" stroke-width="0.13">黄厂</text><text x="776.4" y="537.5" font-size="3.5" fill="#1a1a1a" text-anchor="middle">Huangchang</text></g><g aria-label="郎辛庄"><text x="782.45" y="550.72" font-size="6.1" fill="#1a1a1a" stroke="#1a1a1a" stroke-width="0.13">郎辛庄</text><text x="791.6" y="554.62" font-size="3.5" fill="#1a1a1a" text-anchor="middle">Langxinzhuang</text></g><g aria-label="黑庄户"><text x="797.85" y="533.6" font-size="6.1" fill="#1a1a1a" stroke="#1a1a1a" stroke-width="0.13">黑庄户</text><text x="807" y="537.5" font-size="3.5" fill="#1a1a1a" text-anchor="middle">Heizhuanghu</text></g><g aria-label="万盛西"><text x="812.45" y="551.12" font-size="6.1" fill="#0b5c42" font-weight="bold">万盛西</text><text x="821.6" y="554.62" font-size="3.3" fill="#0b5c42" text-anchor="middle" font-weight="bold">Wanshengxi</text></g><g aria-label="万盛东"><text x="828.25" y="533.6" font-size="6.1" fill="#8a8a8a">万盛东</text><text x="837.4" y="537.5" font-size="3.5" fill="#9c9c9c" text-anchor="middle">Wanshengdong</text></g><g aria-label="群芳"><text x="846.5" y="550.72" font-size="6.1" fill="#8a8a8a">群芳</text><text x="852.6" y="554.62" font-size="3.5" fill="#9c9c9c" text-anchor="middle">Qunfang</text></g><g aria-label="高楼金"><text x="858.85" y="533.6" font-size="6.1" fill="#8a8a8a">高楼金</text><text x="868" y="537.5" font-size="3.5" fill="#9c9c9c" text-anchor="middle">Gaoloujin</text></g><g aria-label="白堆子"><text x="327.2" y="439.7" font-size="6.1" fill="#8a8a8a">白堆子</text><text x="345.5" y="443.6" font-size="3.5" fill="#9c9c9c" text-anchor="end">Baiduizi</text></g><g aria-label="北京西站"><text x="357.1" y="481.3" font-size="6.1" fill="#0b5c42" font-weight="bold">北京西站</text><text x="357.1" y="484.8" font-size="3.3" fill="#0b5c42" text-anchor="start" font-weight="bold">Beijing Xizhan</text><text x="357.1" y="488" font-size="2.64" fill="#0b5c42" text-anchor="start" font-weight="bold">(Beijing West Railway Station)</text></g><g aria-label="六里桥东"><text x="337.3" y="506.62" font-size="6.1" fill="#1a1a1a" stroke="#1a1a1a" stroke-width="0.13">六里桥东</text><text x="337.3" y="510.52" font-size="3.5" fill="#1a1a1a" text-anchor="start">Liuliqiaodong</text></g><g aria-label="七里庄"><text x="288.12" y="526.3" font-size="6.1" fill="#1a1a1a" stroke="#1a1a1a" stroke-width="0.13">七里庄</text><text x="306.43" y="530.2" font-size="3.5" fill="#1a1a1a" text-anchor="end">Qilizhuang</text></g><g aria-label="丰台东大街"><text x="275.8" y="552.6" font-size="6.1" fill="#1a1a1a" stroke="#1a1a1a" stroke-width="0.13">丰台东大街</text><text x="306.3" y="556.5" font-size="3.5" fill="#1a1a1a" text-anchor="end">Fengtai Dongdajie</text></g><g aria-label="丰台南路"><text x="281.9" y="565.6" font-size="6.1" fill="#1a1a1a" stroke="#1a1a1a" stroke-width="0.13">丰台南路</text><text x="306.3" y="569.5" font-size="3.5" fill="#1a1a1a" text-anchor="end">Fengtai Nanlu</text></g><g aria-label="科怡路"><text x="288" y="579.2" font-size="6.1" fill="#1a1a1a" stroke="#1a1a1a" stroke-width="0.13">科怡路</text><text x="306.3" y="583.1" font-size="3.5" fill="#1a1a1a" text-anchor="end">Keyi Lu</text></g><g aria-label="丰台科技园"><text x="275.8" y="593.8" font-size="6.1" fill="#1a1a1a" stroke="#1a1a1a" stroke-width="0.13">丰台科技园</text><text x="306.3" y="597.7" font-size="3.5" fill="#1a1a1a" text-anchor="end">Fengtai Kejiyuan</text></g><g aria-label="郭公庄"><text x="313.4" y="618.32" font-size="6.1" fill="#1a1a1a" stroke="#1a1a1a" stroke-width="0.13">郭公庄</text><text x="313.4" y="622.22" font-size="3.5" fill="#1a1a1a" text-anchor="start">Guogongzhuang</text></g><g aria-label="张郭庄"><text x="196.45" y="543.62" font-size="6.1" fill="#1a1a1a" stroke="#1a1a1a" stroke-width="0.13">张郭庄</text><text x="205.6" y="547.52" font-size="3.5" fill="#1a1a1a" text-anchor="middle">Zhangguozhuang</text></g><g aria-label="园博园"><text x="217.25" y="523.3" font-size="6.1" fill="#1a1a1a" stroke="#1a1a1a" stroke-width="0.13">园博园</text><text x="226.4" y="527.2" font-size="3.5" fill="#1a1a1a" text-anchor="middle">Yuanboyuan</text><text x="226.4" y="530.4" font-size="2.8" fill="#1a1a1a" text-anchor="middle">(Garden Expo Park)</text></g><g aria-label="大瓦窑"><text x="238.45" y="543.62" font-size="6.1" fill="#1a1a1a" stroke="#1a1a1a" stroke-width="0.13">大瓦窑</text><text x="247.6" y="547.52" font-size="3.5" fill="#1a1a1a" text-anchor="middle">Dawayao</text></g><g aria-label="郭庄子"><text x="259.45" y="526.5" font-size="6.1" fill="#1a1a1a" stroke="#1a1a1a" stroke-width="0.13">郭庄子</text><text x="268.6" y="530.4" font-size="3.5" fill="#1a1a1a" text-anchor="middle">Guozhuangzi</text></g><g aria-label="大井"><text x="283.3" y="543.62" font-size="6.1" fill="#1a1a1a" stroke="#1a1a1a" stroke-width="0.13">大井</text><text x="289.4" y="547.52" font-size="3.5" fill="#1a1a1a" text-anchor="middle">Dajing</text></g><g aria-label="东管头"><text x="344.85" y="543.62" font-size="6.1" fill="#1a1a1a" stroke="#1a1a1a" stroke-width="0.13">东管头</text><text x="354" y="547.52" font-size="3.5" fill="#1a1a1a" text-anchor="middle">Dongguantou</text></g><g aria-label="丽泽商务区"><text x="361.65" y="526.5" font-size="5.1" fill="#1a1a1a" stroke="#1a1a1a" stroke-width="0.11">丽泽商务区</text><text x="374.4" y="530.4" font-size="3.5" fill="#1a1a1a" text-anchor="middle">Lize Shangwuqu</text></g><g aria-label="菜户营"><text x="386.25" y="543.62" font-size="6.1" fill="#1a1a1a" stroke="#1a1a1a" stroke-width="0.13">菜户营</text><text x="395.4" y="547.52" font-size="3.5" fill="#1a1a1a" text-anchor="middle">Caihuying</text></g><g aria-label="西铁营"><text x="407.25" y="543.62" font-size="6.1" fill="#1a1a1a" stroke="#1a1a1a" stroke-width="0.13">西铁营</text><text x="416.4" y="547.52" font-size="3.5" fill="#1a1a1a" text-anchor="middle">Xitieying</text></g><g aria-label="景风门"><text x="416.1" y="526.1" font-size="6.1" fill="#1a1a1a" stroke="#1a1a1a" stroke-width="0.13">景风门</text><text x="434.4" y="530" font-size="3.5" fill="#1a1a1a" text-anchor="end">Jingfengmen</text></g><g aria-label="景泰"><text x="531.5" y="544.12" font-size="6.1" fill="#0b5c42" font-weight="bold">景泰</text><text x="537.6" y="547.62" font-size="3.3" fill="#0b5c42" text-anchor="middle" font-weight="bold">Jingtai</text></g><g aria-label="方庄"><text x="600.9" y="543.82" font-size="6.1" fill="#1a1a1a" stroke="#1a1a1a" stroke-width="0.13">方庄</text><text x="607" y="547.72" font-size="3.5" fill="#1a1a1a" text-anchor="middle">Fangzhuang</text></g><g aria-label="北工大西门"><text x="663.75" y="542.52" font-size="6.1" fill="#1a1a1a" stroke="#1a1a1a" stroke-width="0.13">北工大西门</text><text x="679" y="546.42" font-size="2.8" fill="#1a1a1a" text-anchor="middle">Beigongda Ximen</text><text x="679" y="549.62" font-size="2.8" fill="#1a1a1a" text-anchor="middle">(Beijing Univ. of Tech. West Gate)</text></g><g aria-label="平乐园"><text x="681.2" y="517.1" font-size="6.1" fill="#1a1a1a" stroke="#1a1a1a" stroke-width="0.13">平乐园</text><text x="681.2" y="521" font-size="3.5" fill="#1a1a1a" text-anchor="start">Pingleyuan</text></g><g aria-label="金台路"><text x="681.38" y="425.6" font-size="6.1" fill="#1a1a1a" stroke="#1a1a1a" stroke-width="0.13">金台路</text><text x="681.38" y="429.5" font-size="3.5" fill="#1a1a1a" text-anchor="start">Jintai Lu</text></g><g aria-label="大望路"><text x="680.85" y="467.07" font-size="6.1" fill="#1a1a1a" stroke="#1a1a1a" stroke-width="0.13">大望路</text><text x="680.85" y="470.97" font-size="3.5" fill="#1a1a1a" text-anchor="start">Dawang Lu</text></g><g aria-label="朝阳公园"><text x="681.3" y="410.1" font-size="6.1" fill="#0b5c42" font-weight="bold">朝阳公园</text><text x="681.3" y="413.6" font-size="3.3" fill="#0b5c42" text-anchor="start" font-weight="bold">Chaoyang Gongyuan</text><text x="681.3" y="416.8" font-size="3.3" fill="#0b5c42" text-anchor="start" font-weight="bold">(Chaoyang Park)</text></g><g aria-label="枣营"><text x="681.1" y="393" font-size="6.1" fill="#8a8a8a">枣营</text><text x="681.1" y="396.9" font-size="3.5" fill="#9c9c9c" text-anchor="start">Zaoying</text></g><g aria-label="东风北桥"><text x="681.1" y="376.8" font-size="6.1" fill="#8a8a8a">东风北桥</text><text x="681.1" y="380.7" font-size="3.5" fill="#9c9c9c" text-anchor="start">Dongfeng Beiqiao</text></g><g aria-label="将台"><text x="681.1" y="366.2" font-size="6.1" fill="#8a8a8a">将台</text><text x="681.1" y="370.1" font-size="3.5" fill="#9c9c9c" text-anchor="start">Jiangtai</text></g><g aria-label="高家园"><text x="681.1" y="351.2" font-size="6.1" fill="#8a8a8a">高家园</text><text x="681.1" y="355.1" font-size="3.5" fill="#9c9c9c" text-anchor="start">Gaojiayuan</text><text x="681.1" y="358.3" font-size="2.9" fill="#9c9c9c">(暂缓开通)</text></g><g aria-label="望京南"><text x="668.7" y="330.3" font-size="6.1" fill="#8a8a8a">望京南</text><text x="668.7" y="334.2" font-size="3.5" fill="#9c9c9c" text-anchor="start">Wangjingnan</text></g><g aria-label="阜通"><text x="638.1" y="328.8" font-size="6.1" fill="#8a8a8a">阜通</text><text x="650.3" y="332.7" font-size="3.5" fill="#9c9c9c" text-anchor="end">Futong</text></g><g aria-label="望京"><text x="636.55" y="314.57" font-size="6.1" fill="#8a8a8a">望京</text><text x="648.75" y="318.47" font-size="3.5" fill="#9c9c9c" text-anchor="end">Wangjing</text></g><g aria-label="东湖渠"><text x="656.7" y="292.8" font-size="6.1" fill="#8a8a8a">东湖渠</text><text x="656.7" y="296.7" font-size="3.5" fill="#9c9c9c" text-anchor="start">Donghuqu</text></g><g aria-label="来广营"><text x="656.7" y="282.2" font-size="6.1" fill="#8a8a8a">来广营</text><text x="656.7" y="286.1" font-size="3.5" fill="#9c9c9c" text-anchor="start">Laiguangying</text></g><g aria-label="善各庄"><text x="656.7" y="271.2" font-size="6.1" fill="#8a8a8a">善各庄</text><text x="656.7" y="275.1" font-size="3.5" fill="#9c9c9c" text-anchor="start">Shangezhuang</text></g><g aria-label="清华东路西口"><text x="417" y="297.4" font-size="5.2" fill="#8a8a8a">清华东路西口</text><text x="432.6" y="301.3" font-size="3.5" fill="#9c9c9c" text-anchor="middle">Qinghua Donglu Xikou</text></g><g aria-label="六道口"><text x="437.25" y="314.52" font-size="6.1" fill="#8a8a8a">六道口</text><text x="446.4" y="318.42" font-size="3.5" fill="#9c9c9c" text-anchor="middle">Liudaokou</text></g><g aria-label="北沙滩"><text x="457.85" y="297.4" font-size="6.1" fill="#8a8a8a">北沙滩</text><text x="467" y="301.3" font-size="3.5" fill="#9c9c9c" text-anchor="middle">Beishatan</text></g><g aria-label="安立路"><text x="525.85" y="314.92" font-size="6.1" fill="#0b5c42" font-weight="bold">安立路</text><text x="535" y="318.42" font-size="3.3" fill="#0b5c42" text-anchor="middle" font-weight="bold">Anli Lu</text></g><g aria-label="关庄"><text x="573.3" y="313.92" font-size="6.1" fill="#0b5c42" font-weight="bold">关庄</text><text x="579.4" y="317.42" font-size="3.3" fill="#0b5c42" text-anchor="middle" font-weight="bold">Guanzhuang</text></g><g aria-label="望京东"><text x="675.45" y="314.52" font-size="6.1" fill="#8a8a8a">望京东</text><text x="684.6" y="318.42" font-size="3.5" fill="#9c9c9c" text-anchor="middle">Wangjingdong</text></g><g aria-label="崔各庄"><text x="715.1" y="284" font-size="6.1" fill="#8a8a8a">崔各庄</text><text x="715.1" y="287.9" font-size="3.5" fill="#9c9c9c" text-anchor="start">Cuigezhuang</text></g><g aria-label="马泉营"><text x="715.1" y="271.2" font-size="6.1" fill="#8a8a8a">马泉营</text><text x="715.1" y="275.1" font-size="3.5" fill="#9c9c9c" text-anchor="start">Maquanying</text></g><g aria-label="孙河"><text x="715.1" y="257.8" font-size="6.1" fill="#0b5c42" font-weight="bold">孙河</text><text x="715.1" y="261.3" font-size="3.3" fill="#0b5c42" text-anchor="start" font-weight="bold">Sunhe</text></g><g aria-label="国展"><text x="715.1" y="242.6" font-size="6.1" fill="#1a1a1a" stroke="#1a1a1a" stroke-width="0.13">国展</text><text x="715.1" y="246.5" font-size="3.5" fill="#1a1a1a" text-anchor="start">Guozhan</text><text x="715.1" y="249.7" font-size="2.8" fill="#1a1a1a" text-anchor="start">(China Int&#x27;l Exhibition Center)</text></g><g aria-label="花梨坎"><text x="688.6" y="231.4" font-size="6.1" fill="#1a1a1a" stroke="#1a1a1a" stroke-width="0.13">花梨坎</text><text x="706.9" y="235.3" font-size="3.5" fill="#1a1a1a" text-anchor="end">Hualikan</text></g><g aria-label="后沙峪"><text x="688.6" y="218.2" font-size="6.1" fill="#1a1a1a" stroke="#1a1a1a" stroke-width="0.13">后沙峪</text><text x="706.9" y="222.1" font-size="3.5" fill="#1a1a1a" text-anchor="end">Houshayu</text></g><g aria-label="南法信"><text x="728.25" y="196.4" font-size="6.1" fill="#1a1a1a" stroke="#1a1a1a" stroke-width="0.13">南法信</text><text x="737.4" y="200.3" font-size="3.5" fill="#1a1a1a" text-anchor="middle">Nanfaxin</text></g><g aria-label="石门"><text x="765.3" y="196.4" font-size="6.1" fill="#1a1a1a" stroke="#1a1a1a" stroke-width="0.13">石门</text><text x="771.4" y="200.3" font-size="3.5" fill="#1a1a1a" text-anchor="middle">Shimen</text></g><g aria-label="顺义"><text x="799.3" y="196.4" font-size="6.1" fill="#1a1a1a" stroke="#1a1a1a" stroke-width="0.13">顺义</text><text x="805.4" y="200.3" font-size="3.5" fill="#1a1a1a" text-anchor="middle">Shunyi</text></g><g aria-label="俸伯"><text x="833.3" y="196.4" font-size="6.1" fill="#1a1a1a" stroke="#1a1a1a" stroke-width="0.13">俸伯</text><text x="839.4" y="200.3" font-size="3.5" fill="#1a1a1a" text-anchor="middle">Fengbo</text></g><g aria-label="北太平庄"><text x="438.5" y="353.8" font-size="6.1" fill="#8a8a8a">北太平庄</text><text x="462.9" y="357.7" font-size="3.5" fill="#9c9c9c" text-anchor="end">Beitaipingzhuang</text><text x="449.34" y="360.9" font-size="2.9" fill="#9c9c9c">(暂缓开通)</text></g><g aria-label="积水潭"><text x="444.32" y="372.9" font-size="6.1" fill="#1a1a1a" stroke="#1a1a1a" stroke-width="0.13">积水潭</text><text x="462.62" y="376.8" font-size="3.5" fill="#1a1a1a" text-anchor="end">Jishuitan</text></g><g aria-label="太平桥"><text x="441.1" y="447.7" font-size="4.8" fill="#8a8a8a">太平桥</text><text x="441.1" y="451.6" font-size="3.5" fill="#9c9c9c" text-anchor="start">Taipingqiao</text><text x="441.1" y="454.8" font-size="2.9" fill="#9c9c9c">(暂缓开通)</text></g><g aria-label="牛街"><text x="441.1" y="496.3" font-size="6.1" fill="#8a8a8a">牛街</text><text x="441.1" y="500.2" font-size="3.5" fill="#9c9c9c" text-anchor="start">Niujie</text></g><g aria-label="新发地"><text x="424.1" y="587.3" font-size="4.7" fill="#1a1a1a" stroke="#1a1a1a" stroke-width="0.1">新发地</text><text x="424.1" y="591.2" font-size="3.5" fill="#1a1a1a" text-anchor="start">Xinfadi</text></g><g aria-label="东管头南"><text x="368.5" y="553.6" font-size="6.1" fill="#1a1a1a" stroke="#1a1a1a" stroke-width="0.13">东管头南</text><text x="368.5" y="557.5" font-size="3.5" fill="#1a1a1a" text-anchor="start">Dongguantounan</text></g><g aria-label="花乡东桥"><text x="334.2" y="592.55" font-size="4.7" fill="#1a1a1a" stroke="#1a1a1a" stroke-width="0.1">花乡东桥</text><text x="343.6" y="596.45" font-size="3.5" fill="#1a1a1a" text-anchor="middle">Huaxiang Dongqiao</text></g><g aria-label="白盆窑"><text x="322.85" y="605.12" font-size="6.1" fill="#1a1a1a" stroke="#1a1a1a" stroke-width="0.13">白盆窑</text><text x="332" y="609.02" font-size="3.5" fill="#1a1a1a" text-anchor="middle">Baipenyao</text></g><g aria-label="大葆台"><text x="276.2" y="617.8" font-size="6.1" fill="#1a1a1a" stroke="#1a1a1a" stroke-width="0.13">大葆台</text><text x="294.5" y="621.7" font-size="3.5" fill="#1a1a1a" text-anchor="end">Dabaotai</text></g><g aria-label="稻田"><text x="293.5" y="636.6" font-size="6.1" fill="#1a1a1a" stroke="#1a1a1a" stroke-width="0.13">稻田</text><text x="293.5" y="640.5" font-size="3.5" fill="#1a1a1a" text-anchor="start">Daotian</text></g><g aria-label="长阳"><text x="263.1" y="636.6" font-size="6.1" fill="#1a1a1a" stroke="#1a1a1a" stroke-width="0.13">长阳</text><text x="275.3" y="640.5" font-size="3.5" fill="#1a1a1a" text-anchor="end">Changyang</text></g><g aria-label="篱笆房"><text x="274.1" y="655.2" font-size="6.1" fill="#1a1a1a" stroke="#1a1a1a" stroke-width="0.13">篱笆房</text><text x="274.1" y="659.1" font-size="3.5" fill="#1a1a1a" text-anchor="start">Libafang</text></g><g aria-label="广阳城"><text x="238" y="655.8" font-size="6.1" fill="#1a1a1a" stroke="#1a1a1a" stroke-width="0.13">广阳城</text><text x="256.3" y="659.7" font-size="3.5" fill="#1a1a1a" text-anchor="end">Guangyangcheng</text></g><g aria-label="良乡大学城北"><text x="255.1" y="673.2" font-size="6.1" fill="#1a1a1a" stroke="#1a1a1a" stroke-width="0.13">良乡大学城北</text><text x="255.1" y="677.1" font-size="3.5" fill="#1a1a1a" text-anchor="start">Liangxiang Daxuechengbei</text></g><g aria-label="良乡大学城"><text x="245.7" y="683.8" font-size="6.1" fill="#1a1a1a" stroke="#1a1a1a" stroke-width="0.13">良乡大学城</text><text x="245.7" y="687.7" font-size="3.5" fill="#1a1a1a" text-anchor="start">Liangxiang Daxuecheng</text></g><g aria-label="良乡大学城西"><text x="205.7" y="688.52" font-size="6.1" fill="#1a1a1a" stroke="#1a1a1a" stroke-width="0.13">良乡大学城西</text><text x="224" y="692.42" font-size="3.5" fill="#1a1a1a" text-anchor="middle">Liangxiang</text><text x="224" y="695.62" font-size="3.5" fill="#1a1a1a" text-anchor="middle">Daxuechengxi</text></g><g aria-label="良乡南关"><text x="195.4" y="668.2" font-size="6.1" fill="#1a1a1a" stroke="#1a1a1a" stroke-width="0.13">良乡南关</text><text x="207.6" y="672.1" font-size="3.5" fill="#1a1a1a" text-anchor="middle">Liangxiang</text><text x="207.6" y="675.3" font-size="3.5" fill="#1a1a1a" text-anchor="middle">Nanguan</text></g><g aria-label="苏庄"><text x="185.5" y="688.52" font-size="6.1" fill="#1a1a1a" stroke="#1a1a1a" stroke-width="0.13">苏庄</text><text x="191.6" y="692.42" font-size="3.5" fill="#1a1a1a" text-anchor="middle">Suzhuang</text></g><g aria-label="阎村东"><text x="164.25" y="669.8" font-size="6.1" fill="#1a1a1a" stroke="#1a1a1a" stroke-width="0.13">阎村东</text><text x="173.4" y="673.7" font-size="3.5" fill="#1a1a1a" text-anchor="middle">Yancundong</text></g><g aria-label="紫草坞"><text x="146.25" y="689.12" font-size="6.1" fill="#1a1a1a" stroke="#1a1a1a" stroke-width="0.13">紫草坞</text><text x="155.4" y="693.02" font-size="3.5" fill="#1a1a1a" text-anchor="middle">Zicaowu</text></g><g aria-label="阎村"><text x="132.5" y="672" font-size="6.1" fill="#1a1a1a" stroke="#1a1a1a" stroke-width="0.13">阎村</text><text x="138.6" y="675.9" font-size="3.5" fill="#1a1a1a" text-anchor="middle">Yancun</text></g><g aria-label="星城"><text x="116.3" y="689.12" font-size="6.1" fill="#1a1a1a" stroke="#1a1a1a" stroke-width="0.13">星城</text><text x="122.4" y="693.02" font-size="3.5" fill="#1a1a1a" text-anchor="middle">Xingcheng</text></g><g aria-label="大石河东"><text x="93.8" y="672" font-size="6.1" fill="#1a1a1a" stroke="#1a1a1a" stroke-width="0.13">大石河东</text><text x="106" y="675.9" font-size="3.5" fill="#1a1a1a" text-anchor="middle">Dashihedong</text></g><g aria-label="马各庄"><text x="80.25" y="689.12" font-size="6.1" fill="#1a1a1a" stroke="#1a1a1a" stroke-width="0.13">马各庄</text><text x="89.4" y="693.02" font-size="3.5" fill="#1a1a1a" text-anchor="middle">Magezhuang</text></g><g aria-label="饶乐府"><text x="54.85" y="689.12" font-size="6.1" fill="#1a1a1a" stroke="#1a1a1a" stroke-width="0.13">饶乐府</text><text x="64" y="693.02" font-size="3.5" fill="#1a1a1a" text-anchor="middle">Raolefu</text></g><g aria-label="房山城关"><text x="57.7" y="660" font-size="6.1" fill="#1a1a1a" stroke="#1a1a1a" stroke-width="0.13">房山城关</text><text x="69.9" y="663.9" font-size="3.5" fill="#1a1a1a" text-anchor="middle">Fangshan Chengguan</text></g><g aria-label="燕山"><text x="41.5" y="650" font-size="6.1" fill="#1a1a1a" stroke="#1a1a1a" stroke-width="0.13">燕山</text><text x="47.6" y="653.9" font-size="3.5" fill="#1a1a1a" text-anchor="middle">Yanshan</text></g><g aria-label="石厂"><text x="64.3" y="473" font-size="6.1" fill="#8a8a8a">石厂</text><text x="70.4" y="476.9" font-size="3.5" fill="#9c9c9c" text-anchor="middle">Shichang</text></g><g aria-label="小园"><text x="79.9" y="490.12" font-size="6.1" fill="#8a8a8a">小园</text><text x="86" y="494.02" font-size="3.5" fill="#9c9c9c" text-anchor="middle">Xiaoyuan</text></g><g aria-label="栗园庄"><text x="103.7" y="468.2" font-size="6.1" fill="#8a8a8a">栗园庄</text><text x="103.7" y="472.1" font-size="3.5" fill="#9c9c9c" text-anchor="start">Liyuanzhuang</text></g><g aria-label="上岸"><text x="83.7" y="456.6" font-size="6.1" fill="#8a8a8a">上岸</text><text x="95.9" y="460.5" font-size="3.5" fill="#9c9c9c" text-anchor="end">Shang&#x27;an</text></g><g aria-label="桥户营"><text x="106.25" y="432.6" font-size="6.1" fill="#8a8a8a">桥户营</text><text x="115.4" y="436.5" font-size="3.5" fill="#9c9c9c" text-anchor="middle">Qiaohuying</text></g><g aria-label="四道桥"><text x="123.25" y="449.72" font-size="6.1" fill="#8a8a8a">四道桥</text><text x="132.4" y="453.62" font-size="3.5" fill="#9c9c9c" text-anchor="middle">Sidaoqiao</text></g><g aria-label="模式口"><text x="155.5" y="412.6" font-size="6.1" fill="#8a8a8a">模式口</text><text x="155.5" y="416.5" font-size="3.5" fill="#9c9c9c" text-anchor="start">Moshikou</text><text x="155.5" y="419.7" font-size="2.9" fill="#9c9c9c">(暂缓开通)</text></g><g aria-label="北辛安"><text x="129.2" y="461.2" font-size="6.1" fill="#8a8a8a">北辛安</text><text x="147.5" y="465.1" font-size="3.5" fill="#9c9c9c" text-anchor="end">Beixin&#x27;an</text></g><g aria-label="新首钢"><text x="142.45" y="481.72" font-size="6.1" fill="#8a8a8a">新首钢</text><text x="151.6" y="485.62" font-size="3.5" fill="#9c9c9c" text-anchor="middle">Xinshougang</text><text x="151.6" y="488.82" font-size="3.5" fill="#9c9c9c" text-anchor="middle">(Shougang Park)</text></g><g aria-label="香山"><text x="202.9" y="304.12" font-size="6.1" fill="#8a8a8a">香山</text><text x="209" y="308.02" font-size="3.5" fill="#9c9c9c" text-anchor="middle">Xiangshan</text><text x="209" y="311.22" font-size="3.5" fill="#9c9c9c" text-anchor="middle">(Fragrant Hills)</text></g><g aria-label="植物园"><text x="224.05" y="283.8" font-size="6.1" fill="#8a8a8a">植物园</text><text x="233.2" y="287.7" font-size="3.5" fill="#9c9c9c" text-anchor="middle">Zhiwuyuan</text><text x="233.2" y="290.9" font-size="2.8" fill="#9c9c9c" text-anchor="middle">(Botanical Garden)</text></g><g aria-label="万安"><text x="240.9" y="309.2" font-size="6.1" fill="#8a8a8a">万安</text><text x="240.9" y="313.1" font-size="3.5" fill="#9c9c9c" text-anchor="start">Wan&#x27;an</text></g><g aria-label="茶棚"><text x="247.3" y="328.72" font-size="6.1" fill="#8a8a8a">茶棚</text><text x="253.4" y="332.62" font-size="3.5" fill="#9c9c9c" text-anchor="middle">Chapeng</text></g><g aria-label="颐和园西门"><text x="263.75" y="308.4" font-size="6.1" fill="#8a8a8a">颐和园西门</text><text x="279" y="312.3" font-size="3.5" fill="#9c9c9c" text-anchor="middle">Yiheyuan Ximen</text><text x="279" y="315.5" font-size="2.8" fill="#9c9c9c" text-anchor="middle">(Summer Palace West Gate)</text></g><g aria-label="2号航站楼"><text x="768.1" y="253.2" font-size="6.1" fill="#8a8a8a">2号航站楼</text><text x="768.1" y="257.1" font-size="3.5" fill="#9c9c9c" text-anchor="start">T2 Hangzhanlou</text><text x="768.1" y="260.3" font-size="3.5" fill="#9c9c9c" text-anchor="start">(Terminal 2)</text></g><g aria-label="3号航站楼"><text x="809.1" y="253.2" font-size="6.1" fill="#8a8a8a">3号航站楼</text><text x="809.1" y="257.1" font-size="3.5" fill="#9c9c9c" text-anchor="start">T3 Hangzhanlou</text><text x="809.1" y="260.3" font-size="3.5" fill="#9c9c9c" text-anchor="start">(Terminal 3)</text></g><g aria-label="大兴新城"><text x="465.5" y="648.2" font-size="6.1" fill="#8a8a8a">大兴新城</text><text x="465.5" y="652.1" font-size="3.5" fill="#9c9c9c" text-anchor="start">Daxing Xincheng</text></g><g aria-label="大兴机场"><text x="465.5" y="735.8" font-size="6.1" fill="#8a8a8a">大兴机场</text><text x="465.5" y="739.7" font-size="3.5" fill="#9c9c9c" text-anchor="start">Daxing Jichang</text><text x="465.5" y="742.9" font-size="3.5" fill="#9c9c9c" text-anchor="start">(Daxing Airport)</text></g><g aria-label="肖村"><text x="546.7" y="595.6" font-size="6.1" fill="#1a1a1a" stroke="#1a1a1a" stroke-width="0.13">肖村</text><text x="558.9" y="599.5" font-size="3.5" fill="#1a1a1a" text-anchor="end">Xiaocun</text></g><g aria-label="小红门"><text x="574.7" y="594.2" font-size="6.1" fill="#1a1a1a" stroke="#1a1a1a" stroke-width="0.13">小红门</text><text x="574.7" y="598.1" font-size="3.5" fill="#1a1a1a" text-anchor="start">Xiaohongmen</text></g><g aria-label="旧宫"><text x="562.7" y="611.6" font-size="6.1" fill="#0b5c42" font-weight="bold">旧宫</text><text x="574.9" y="615.1" font-size="3.3" fill="#0b5c42" text-anchor="end" font-weight="bold">Jiugong</text></g><g aria-label="亦庄桥"><text x="590.1" y="609.8" font-size="6.1" fill="#8a8a8a">亦庄桥</text><text x="590.1" y="613.7" font-size="3.5" fill="#9c9c9c" text-anchor="start">Yizhuangqiao</text></g><g aria-label="亦庄文化园"><text x="559" y="626.2" font-size="6.1" fill="#8a8a8a">亦庄文化园</text><text x="589.5" y="630.1" font-size="3.5" fill="#9c9c9c" text-anchor="end">Yizhuang Wenhuayuan</text><text x="589.5" y="633.3" font-size="2.8" fill="#9c9c9c" text-anchor="end">(Yizhuang Culture Park)</text></g><g aria-label="万源街"><text x="605.1" y="624.8" font-size="6.1" fill="#8a8a8a">万源街</text><text x="605.1" y="628.7" font-size="3.5" fill="#9c9c9c" text-anchor="start">Wanyuanjie</text></g><g aria-label="荣京东街"><text x="580.5" y="641.2" font-size="6.1" fill="#8a8a8a">荣京东街</text><text x="604.9" y="645.1" font-size="3.5" fill="#9c9c9c" text-anchor="end">Rongjing Dongjie</text></g><g aria-label="荣昌东街"><text x="628.4" y="648.8" font-size="6.1" fill="#8a8a8a">荣昌东街</text><text x="628.4" y="652.7" font-size="3.5" fill="#9c9c9c" text-anchor="start">Rongchang Dongjie</text></g><g aria-label="同济南路"><text x="641.6" y="670.52" font-size="6.1" fill="#8a8a8a">同济南路</text><text x="653.8" y="674.42" font-size="3.5" fill="#9c9c9c" text-anchor="middle">Tongji Nanlu</text></g><g aria-label="经海路"><text x="683.85" y="653.4" font-size="6.1" fill="#8a8a8a">经海路</text><text x="693" y="657.3" font-size="3.5" fill="#9c9c9c" text-anchor="middle">Jinghai Lu</text></g><g aria-label="次渠南"><text x="723.25" y="670.52" font-size="6.1" fill="#8a8a8a">次渠南</text><text x="732.4" y="674.42" font-size="3.5" fill="#9c9c9c" text-anchor="middle">Ciqunan</text></g><g aria-label="次渠"><text x="757.45" y="670.57" font-size="6.1" fill="#8a8a8a">次渠</text><text x="769.65" y="674.47" font-size="3.5" fill="#9c9c9c" text-anchor="end">Ciqu</text></g><g aria-label="亦庄火车站"><text x="786.95" y="650.2" font-size="6.1" fill="#8a8a8a">亦庄火车站</text><text x="802.2" y="654.1" font-size="3.5" fill="#9c9c9c" text-anchor="middle">Yizhuang Huochezhan</text><text x="802.2" y="657.3" font-size="2.8" fill="#9c9c9c" text-anchor="middle">(Yizhuang Railway Station)</text></g><g aria-label="周家庄"><text x="677.8" y="557.7" font-size="6.1" fill="#1a1a1a" stroke="#1a1a1a" stroke-width="0.13">周家庄</text><text x="677.8" y="561.6" font-size="3.5" fill="#1a1a1a" text-anchor="start">Zhoujiazhuang</text></g><g aria-label="十八里店"><text x="701.9" y="581.9" font-size="6.1" fill="#1a1a1a" stroke="#1a1a1a" stroke-width="0.13">十八里店</text><text x="701.9" y="585.8" font-size="3.5" fill="#1a1a1a" text-anchor="start">Shibalidian</text></g><g aria-label="北神树"><text x="726.7" y="606.6" font-size="6.1" fill="#0b5c42" font-weight="bold">北神树</text><text x="726.7" y="610.1" font-size="3.3" fill="#0b5c42" text-anchor="start" font-weight="bold">Beishenshu</text></g><g aria-label="次渠北"><text x="751.1" y="631" font-size="6.1" fill="#8a8a8a">次渠北</text><text x="751.1" y="634.9" font-size="3.5" fill="#9c9c9c" text-anchor="start">Ciqubei</text></g><g aria-label="嘉会湖"><text x="786.25" y="692.52" font-size="6.1" fill="#8a8a8a">嘉会湖</text><text x="795.4" y="696.42" font-size="3.5" fill="#9c9c9c" text-anchor="middle">Jiahuihu</text></g><g aria-label="定海园"><text x="651.75" y="593.7" font-size="6.1" fill="#8a8a8a">定海园</text><text x="660.9" y="597.6" font-size="3.5" fill="#9c9c9c" text-anchor="middle">Dinghaiyuan</text></g><g aria-label="定海园西"><text x="623.6" y="608.6" font-size="6.1" fill="#8a8a8a">定海园西</text><text x="648" y="612.5" font-size="3.5" fill="#9c9c9c" text-anchor="end">Dinghaiyuanxi</text></g><g aria-label="经海一路"><text x="646" y="623.7" font-size="6.1" fill="#8a8a8a">经海一路</text><text x="646" y="627.6" font-size="3.5" fill="#9c9c9c" text-anchor="start">Jinghai Yilu</text></g><g aria-label="亦创会展中心"><text x="636.2" y="634.3" font-size="6.1" fill="#8a8a8a">亦创会展中心</text><text x="636.2" y="638.2" font-size="3.5" fill="#9c9c9c" text-anchor="start">Yichuang Huizhan Zhongxin</text><text x="636.2" y="641.4" font-size="2.8" fill="#9c9c9c" text-anchor="start">Beijing Etrong Exhibition &amp; Convention Center</text></g><g aria-label="亦庄同仁"><text x="579" y="659.2" font-size="6.1" fill="#8a8a8a">亦庄同仁</text><text x="603.4" y="663.1" font-size="3.5" fill="#9c9c9c" text-anchor="end">Yizhuang Tongren</text></g><g aria-label="鹿圈东"><text x="611.4" y="666.3" font-size="6.1" fill="#8a8a8a">鹿圈东</text><text x="611.4" y="670.2" font-size="3.5" fill="#9c9c9c" text-anchor="start">Luquandong</text></g><g aria-label="泰河路"><text x="585.1" y="673.2" font-size="6.1" fill="#8a8a8a">泰河路</text><text x="603.4" y="677.1" font-size="3.5" fill="#9c9c9c" text-anchor="end">Taihe Lu</text></g><g aria-label="九号村"><text x="611.4" y="680.8" font-size="6.1" fill="#8a8a8a">九号村</text><text x="611.4" y="684.7" font-size="3.5" fill="#9c9c9c" text-anchor="start">Jiuhaocun</text></g><g aria-label="四海庄"><text x="585.1" y="689.2" font-size="6.1" fill="#8a8a8a">四海庄</text><text x="603.4" y="693.1" font-size="3.5" fill="#9c9c9c" text-anchor="end">Sihaizhuang</text></g><g aria-label="太和桥北"><text x="611.4" y="696.6" font-size="6.1" fill="#8a8a8a">太和桥北</text><text x="611.4" y="700.5" font-size="3.5" fill="#9c9c9c" text-anchor="start">Taiheqiaobei</text></g><g aria-label="瑞合庄"><text x="585.1" y="704.6" font-size="6.1" fill="#8a8a8a">瑞合庄</text><text x="603.4" y="708.5" font-size="3.5" fill="#9c9c9c" text-anchor="end">Ruihezhuang</text></g><g aria-label="融兴街"><text x="611.4" y="712.2" font-size="6.1" fill="#8a8a8a">融兴街</text><text x="611.4" y="716.1" font-size="3.5" fill="#9c9c9c" text-anchor="start">Rongxingjie</text></g><g aria-label="屈庄"><text x="591.2" y="719.8" font-size="6.1" fill="#8a8a8a">屈庄</text><text x="603.4" y="723.7" font-size="3.5" fill="#9c9c9c" text-anchor="end">Quzhuang</text></g><g aria-label="老观里"><text x="611.4" y="727.8" font-size="6.1" fill="#8a8a8a">老观里</text><text x="611.4" y="731.7" font-size="3.5" fill="#9c9c9c" text-anchor="start">Laoguanli</text><text x="611.4" y="734.9" font-size="2.9" fill="#9c9c9c">(暂缓开通)</text></g></g><g><rect x="272" y="148.4" width="18.6" height="8.6" rx="0.9" fill="#cf86c0"/><text x="274.4" y="153.1" font-size="4.6" fill="#5a1a5a" font-weight="bold">昌平线</text><text x="281.3" y="155.6" font-size="2.1" fill="#5a1a5a" text-anchor="middle" textLength="13.6" lengthAdjust="spacingAndGlyphs">Changping Line</text><rect x="210.4" y="205" width="18.2" height="9" rx="0.9" fill="#7fae2e"/><text x="215.4" y="213" font-size="9.9" fill="#fff" stroke="#fff" stroke-width="0.25" text-anchor="middle" textLength="8.8" lengthAdjust="spacingAndGlyphs">16</text><text x="220.1" y="209.6" font-size="3.9" fill="#fff" font-weight="bold">号线</text><text x="220.1" y="212.5" font-size="2.3" fill="#fff" textLength="7.8" lengthAdjust="spacingAndGlyphs">Line16</text><rect x="271" y="249" width="18.4" height="9" rx="0.9" fill="#16939c"/><text x="274.9" y="257" font-size="9.9" fill="#fff" stroke="#fff" stroke-width="0.25" text-anchor="middle" textLength="5" lengthAdjust="spacingAndGlyphs">4</text><text x="278.3" y="253.6" font-size="4.7" fill="#fff" font-weight="bold">号线</text><text x="278.3" y="256.5" font-size="2.3" fill="#fff" textLength="10.2" lengthAdjust="spacingAndGlyphs">Line4</text><rect x="492.4" y="216.6" width="18.2" height="9" rx="0.9" fill="#129a6c"/><text x="496.3" y="224.6" font-size="9.9" fill="#fff" stroke="#fff" stroke-width="0.25" text-anchor="middle" textLength="5" lengthAdjust="spacingAndGlyphs">8</text><text x="499.7" y="221.2" font-size="4.7" fill="#fff" font-weight="bold">号线</text><text x="499.7" y="224.1" font-size="2.3" fill="#fff" textLength="10" lengthAdjust="spacingAndGlyphs">Line8</text><rect x="538.6" y="207.4" width="18" height="8.6" rx="0.9" fill="#a21a8e"/><text x="542.5" y="215" font-size="9.9" fill="#fff" stroke="#fff" stroke-width="0.25" text-anchor="middle" textLength="5" lengthAdjust="spacingAndGlyphs">5</text><text x="545.9" y="212" font-size="4.7" fill="#fff" font-weight="bold">号线</text><text x="545.9" y="214.5" font-size="2.3" fill="#fff" textLength="9.8" lengthAdjust="spacingAndGlyphs">Line5</text><rect x="608.4" y="244.4" width="18.2" height="8.6" rx="0.9" fill="#f2e62a"/><text x="613.4" y="252" font-size="9.9" fill="#333" stroke="#333" stroke-width="0" text-anchor="middle" textLength="8.8" lengthAdjust="spacingAndGlyphs">13</text><text x="618.1" y="249" font-size="3.9" fill="#333" font-weight="bold">号线</text><text x="618.1" y="251.5" font-size="2.3" fill="#333" textLength="7.8" lengthAdjust="spacingAndGlyphs">Line13</text><rect x="643.6" y="255.6" width="18.4" height="8.8" rx="0.9" fill="#cfabb3"/><text x="648.6" y="263.4" font-size="9.9" fill="#3a3a3a" stroke="#3a3a3a" stroke-width="0" text-anchor="middle" textLength="8.8" lengthAdjust="spacingAndGlyphs">14</text><text x="653.3" y="260.2" font-size="4" fill="#3a3a3a" font-weight="bold">号线</text><text x="653.3" y="262.9" font-size="2.3" fill="#3a3a3a" textLength="8" lengthAdjust="spacingAndGlyphs">Line14</text><rect x="830.4" y="209" width="18.6" height="8.6" rx="0.9" fill="#6c3c94"/><text x="835.4" y="216.6" font-size="9.9" fill="#fff" stroke="#fff" stroke-width="0.25" text-anchor="middle" textLength="8.8" lengthAdjust="spacingAndGlyphs">15</text><text x="840.1" y="213.6" font-size="4.1" fill="#fff" font-weight="bold">号线</text><text x="840.1" y="216.1" font-size="2.3" fill="#fff" textLength="8.2" lengthAdjust="spacingAndGlyphs">Line15</text><rect x="788" y="303.4" width="24.4" height="8.6" rx="0.9" fill="#a9a9d2"/><text x="789.5" y="308.1" font-size="4.28" fill="#1a2a6a" font-weight="bold">首都机场线</text><text x="800.2" y="310.6" font-size="2.1" fill="#1a2a6a" text-anchor="middle" textLength="19.4" lengthAdjust="spacingAndGlyphs">Capital Airport Express</text><rect x="200" y="282.4" width="18.4" height="8.6" rx="0.9" fill="#e21a2a"/><text x="202.3" y="287.1" font-size="4.6" fill="#fff" font-weight="bold">西郊线</text><text x="209.2" y="289.6" font-size="2.1" fill="#fff" text-anchor="middle" textLength="13.4" lengthAdjust="spacingAndGlyphs">Xijiao Line</text><rect x="262" y="351" width="18" height="8.6" rx="0.9" fill="#1c9ece"/><text x="267" y="358.6" font-size="9.9" fill="#fff" stroke="#fff" stroke-width="0.25" text-anchor="middle" textLength="8.8" lengthAdjust="spacingAndGlyphs">10</text><text x="271.7" y="355.6" font-size="3.8" fill="#fff" font-weight="bold">号线</text><text x="271.7" y="358.1" font-size="2.3" fill="#fff" textLength="7.6" lengthAdjust="spacingAndGlyphs">Line10</text><rect x="425.4" y="368.4" width="18.2" height="9" rx="0.9" fill="#1c5c9c"/><text x="429.3" y="376.4" font-size="9.9" fill="#fff" stroke="#fff" stroke-width="0.25" text-anchor="middle" textLength="5" lengthAdjust="spacingAndGlyphs">2</text><text x="432.7" y="373" font-size="4.7" fill="#fff" font-weight="bold">号线</text><text x="432.7" y="375.9" font-size="2.3" fill="#fff" textLength="10" lengthAdjust="spacingAndGlyphs">Line2</text><rect x="470.4" y="393" width="18.2" height="8.6" rx="0.9" fill="#bcacdc"/><text x="475.4" y="400.6" font-size="9.9" fill="#333" stroke="#333" stroke-width="0" text-anchor="middle" textLength="8.8" lengthAdjust="spacingAndGlyphs">19</text><text x="480.1" y="397.6" font-size="3.9" fill="#333" font-weight="bold">号线</text><text x="480.1" y="400.1" font-size="2.3" fill="#333" textLength="7.8" lengthAdjust="spacingAndGlyphs">Line19</text><rect x="201" y="396.6" width="18" height="9" rx="0.9" fill="#d29c0c"/><text x="204.9" y="404.6" font-size="9.9" fill="#fff" stroke="#fff" stroke-width="0.25" text-anchor="middle" textLength="5" lengthAdjust="spacingAndGlyphs">6</text><text x="208.3" y="401.2" font-size="4.7" fill="#fff" font-weight="bold">号线</text><text x="208.3" y="404.1" font-size="2.3" fill="#fff" textLength="9.8" lengthAdjust="spacingAndGlyphs">Line6</text><rect x="231" y="472.6" width="18.6" height="8.8" rx="0.9" fill="#c9362c"/><text x="234.9" y="480.4" font-size="9.9" fill="#fff" stroke="#fff" stroke-width="0.25" text-anchor="middle" textLength="5" lengthAdjust="spacingAndGlyphs">1</text><text x="238.3" y="477.2" font-size="4.7" fill="#fff" font-weight="bold">号线</text><text x="238.3" y="479.9" font-size="2.3" fill="#fff" textLength="10.4" lengthAdjust="spacingAndGlyphs">Line1</text><rect x="54.4" y="485" width="18.6" height="8.6" rx="0.9" fill="#b25a2a"/><text x="58.61" y="489.7" font-size="4.6" fill="#fff" font-weight="bold">S1线</text><text x="63.7" y="492.2" font-size="2.1" fill="#fff" text-anchor="middle" textLength="13.6" lengthAdjust="spacingAndGlyphs">Line S1</text><rect x="142.4" y="492.6" width="18.2" height="8.4" rx="0.9" fill="#ea7472"/><text x="147.4" y="500" font-size="9.9" fill="#fff" stroke="#fff" stroke-width="0.25" text-anchor="middle" textLength="8.8" lengthAdjust="spacingAndGlyphs">11</text><text x="152.1" y="497.2" font-size="3.9" fill="#fff" font-weight="bold">号线</text><text x="152.1" y="499.5" font-size="2.3" fill="#fff" textLength="7.8" lengthAdjust="spacingAndGlyphs">Line11</text><rect x="191" y="522.6" width="18.6" height="8.4" rx="0.9" fill="#cfabb3"/><text x="196" y="530" font-size="9.9" fill="#3a3a3a" stroke="#3a3a3a" stroke-width="0" text-anchor="middle" textLength="8.8" lengthAdjust="spacingAndGlyphs">14</text><text x="200.7" y="527.2" font-size="4.1" fill="#3a3a3a" font-weight="bold">号线</text><text x="200.7" y="529.5" font-size="2.3" fill="#3a3a3a" textLength="8.2" lengthAdjust="spacingAndGlyphs">Line14</text><rect x="708.4" y="462.6" width="18.6" height="9" rx="0.9" fill="#c9362c"/><text x="712.3" y="470.6" font-size="9.9" fill="#fff" stroke="#fff" stroke-width="0.25" text-anchor="middle" textLength="5" lengthAdjust="spacingAndGlyphs">1</text><text x="715.7" y="467.2" font-size="4.7" fill="#fff" font-weight="bold">号线</text><text x="715.7" y="470.1" font-size="2.3" fill="#fff" textLength="10.4" lengthAdjust="spacingAndGlyphs">Line1</text><rect x="943" y="444" width="18" height="9" rx="0.9" fill="#d29c0c"/><text x="946.9" y="452" font-size="9.9" fill="#fff" stroke="#fff" stroke-width="0.25" text-anchor="middle" textLength="5" lengthAdjust="spacingAndGlyphs">6</text><text x="950.3" y="448.6" font-size="4.7" fill="#fff" font-weight="bold">号线</text><text x="950.3" y="451.5" font-size="2.3" fill="#fff" textLength="9.8" lengthAdjust="spacingAndGlyphs">Line6</text><rect x="899.4" y="502.6" width="18.6" height="8.6" rx="0.9" fill="#c9362c"/><text x="901.8" y="507.3" font-size="4.6" fill="#fff" font-weight="bold">八通线</text><text x="908.7" y="509.8" font-size="2.1" fill="#fff" text-anchor="middle" textLength="13.6" lengthAdjust="spacingAndGlyphs">Batong Line</text><rect x="752" y="555.6" width="18.6" height="8.8" rx="0.9" fill="#fbe6c8"/><text x="755.9" y="563.4" font-size="9.9" fill="#aaa" stroke="#aaa" stroke-width="0" text-anchor="middle" textLength="5" lengthAdjust="spacingAndGlyphs">7</text><text x="759.3" y="560.2" font-size="4.7" fill="#aaa" font-weight="bold">号线</text><text x="759.3" y="562.9" font-size="2.3" fill="#aaa" textLength="10.4" lengthAdjust="spacingAndGlyphs">Line7</text><rect x="269" y="574" width="18.4" height="8.6" rx="0.9" fill="#86c22c"/><text x="272.9" y="581.6" font-size="9.9" fill="#2a5a1a" stroke="#2a5a1a" stroke-width="0" text-anchor="middle" textLength="5" lengthAdjust="spacingAndGlyphs">9</text><text x="276.3" y="578.6" font-size="4.7" fill="#2a5a1a" font-weight="bold">号线</text><text x="276.3" y="581.1" font-size="2.3" fill="#2a5a1a" textLength="10.2" lengthAdjust="spacingAndGlyphs">Line9</text><rect x="465.6" y="578" width="18.4" height="9" rx="0.9" fill="#16939c"/><text x="469.5" y="586" font-size="9.9" fill="#fff" stroke="#fff" stroke-width="0.25" text-anchor="middle" textLength="5" lengthAdjust="spacingAndGlyphs">4</text><text x="472.9" y="582.6" font-size="4.7" fill="#fff" font-weight="bold">号线</text><text x="472.9" y="585.5" font-size="2.3" fill="#fff" textLength="10.2" lengthAdjust="spacingAndGlyphs">Line4</text><rect x="564.4" y="558" width="18.2" height="8.6" rx="0.9" fill="#a21a8e"/><text x="568.3" y="565.6" font-size="9.9" fill="#fff" stroke="#fff" stroke-width="0.25" text-anchor="middle" textLength="5" lengthAdjust="spacingAndGlyphs">5</text><text x="571.7" y="562.6" font-size="4.7" fill="#fff" font-weight="bold">号线</text><text x="571.7" y="565.1" font-size="2.3" fill="#fff" textLength="10" lengthAdjust="spacingAndGlyphs">Line5</text><rect x="601" y="575" width="18.4" height="9" rx="0.9" fill="#1c9ece"/><text x="606" y="583" font-size="9.9" fill="#fff" stroke="#fff" stroke-width="0.25" text-anchor="middle" textLength="8.8" lengthAdjust="spacingAndGlyphs">10</text><text x="610.7" y="579.6" font-size="4" fill="#fff" font-weight="bold">号线</text><text x="610.7" y="582.5" font-size="2.3" fill="#fff" textLength="8" lengthAdjust="spacingAndGlyphs">Line10</text><rect x="38" y="635.6" width="18.6" height="8.8" rx="0.9" fill="#ea722a"/><text x="40.4" y="640.3" font-size="4.6" fill="#fff" font-weight="bold">燕房线</text><text x="47.3" y="643" font-size="2.1" fill="#fff" text-anchor="middle" textLength="13.6" lengthAdjust="spacingAndGlyphs">Yanfang Line</text><rect x="182" y="695" width="18.6" height="8.6" rx="0.9" fill="#ea6a2a"/><text x="184.4" y="699.7" font-size="4.6" fill="#fff" font-weight="bold">房山线</text><text x="191.3" y="702.2" font-size="2.1" fill="#fff" text-anchor="middle" textLength="13.6" lengthAdjust="spacingAndGlyphs">Fangshan Line</text><rect x="381" y="724.6" width="18.6" height="8.8" rx="0.9" fill="#16939c"/><text x="383.4" y="729.3" font-size="4.6" fill="#fff" font-weight="bold">大兴线</text><text x="390.3" y="732" font-size="2.1" fill="#fff" text-anchor="middle" textLength="13.6" lengthAdjust="spacingAndGlyphs">Daxing Line</text><rect x="491" y="736.4" width="24.6" height="8.6" rx="0.9" fill="#0c4c9c"/><text x="492.5" y="741.1" font-size="4.32" fill="#fff" font-weight="bold">大兴机场线</text><text x="503.3" y="743.6" font-size="2.1" fill="#fff" text-anchor="middle" textLength="19.6" lengthAdjust="spacingAndGlyphs">Daxing Airport Express</text><rect x="539" y="678.4" width="18.4" height="9" rx="0.9" fill="#129a6c"/><text x="542.9" y="686.4" font-size="9.9" fill="#fff" stroke="#fff" stroke-width="0.25" text-anchor="middle" textLength="5" lengthAdjust="spacingAndGlyphs">8</text><text x="546.3" y="683" font-size="4.7" fill="#fff" font-weight="bold">号线</text><text x="546.3" y="685.9" font-size="2.3" fill="#fff" textLength="10.2" lengthAdjust="spacingAndGlyphs">Line8</text><rect x="632" y="722.4" width="18.4" height="9" rx="0.9" fill="#ea1222"/><text x="634.71" y="727.1" font-size="3.08" fill="#fff" font-weight="bold">亦庄T1线</text><text x="641.2" y="730" font-size="2.1" fill="#fff" text-anchor="middle" textLength="13.4" lengthAdjust="spacingAndGlyphs">Yizhuang T1 Line</text><rect x="792.7" y="634" width="18.3" height="8.8" rx="0.9" fill="#ea128e"/><text x="794.95" y="638.7" font-size="4.6" fill="#fff" font-weight="bold">亦庄线</text><text x="801.85" y="641.4" font-size="2.1" fill="#fff" text-anchor="middle" textLength="13.3" lengthAdjust="spacingAndGlyphs">Yizhuang Line</text><rect x="786" y="697.3" width="18.7" height="9" rx="0.9" fill="#1aaab2"/><text x="791" y="705.3" font-size="9.9" fill="#fff" stroke="#fff" stroke-width="0.25" text-anchor="middle" textLength="8.8" lengthAdjust="spacingAndGlyphs">17</text><text x="795.7" y="701.9" font-size="4.15" fill="#fff" font-weight="bold">号线</text><text x="795.7" y="704.8" font-size="2.3" fill="#fff" textLength="8.3" lengthAdjust="spacingAndGlyphs">Line17</text></g><rect x="776.4" y="229.3" width="17.2" height="17.2" fill="#fff" stroke="#8fa6c6" stroke-width="0.5"/><path transform="translate(785 238.2) scale(1.13)" d="M0 -6.2C0.9 -6.2 1.1 -4.6 1.1 -3.6V-1.6L6.6 2V3.5L1.1 1.8V4.6L2.7 5.9V6.9L0 6.2L-2.7 6.9V5.9L-1.1 4.6V1.8L-6.6 3.5V2L-1.1 -1.6V-3.6C-1.1 -4.6 -0.9 -6.2 0 -6.2Z" fill="#8fa6c6"/><rect x="468.6" y="711.6" width="17.2" height="17.2" fill="#fff" stroke="#8fa6c6" stroke-width="0.5"/><path transform="translate(477.2 720.5) scale(1.13)" d="M0 -6.2C0.9 -6.2 1.1 -4.6 1.1 -3.6V-1.6L6.6 2V3.5L1.1 1.8V4.6L2.7 5.9V6.9L0 6.2L-2.7 6.9V5.9L-1.1 4.6V1.8L-6.6 3.5V2L-1.1 -1.6V-3.6C-1.1 -4.6 -0.9 -6.2 0 -6.2Z" fill="#8fa6c6"/><text x="425.64" y="411.5" font-size="2.6" fill="#a5a5a5">(车站暂缓开通)</text><text x="388.6" y="529.6" font-size="7.4" fill="#222">(</text><text x="156.6" y="461.6" font-size="8.4" fill="#777">(</text><text x="184.2" y="461.6" font-size="8.4" fill="#777">)</text><text x="161.5" y="457.9" font-size="3.5" fill="#777">车站封闭改造</text><text x="165" y="461.9" font-size="3.5" fill="#777">施工当中</text><text x="412.6" y="529.6" font-size="7.4" fill="#222">)</text><text x="392.4" y="525.6" font-size="2.5" fill="#222">十九号线景风门站</text><text x="396.4" y="529.4" font-size="3" fill="#1c4a8a">暂缓开通</text><rect x="0" y="0" width="1000" height="111.6" fill="#0b3c7a"/><rect x="0" y="757.2" width="1000" height="3.8" fill="#0b3c7a"/><g transform="translate(67 62.6)"><circle r="20.6" fill="none" stroke="#fff" stroke-width="7"/><rect x="14" y="-8" width="12" height="4.6" fill="#0b3c7a"/><rect x="12" y="-3.4" width="12.1" height="8.4" fill="#fff"/><path fill="#fff" fill-rule="evenodd" d="M-10.5 -12.2H6C13 -12.2 16.4 -6 16.4 0C16.4 6 13 12.3 6 12.3H-10.5ZM-4.6 -6.6V6.8H3.6Q6.5 6.8 6.5 3.9Q6.5 1.4 4.4 0.2Q6.2 -1 6.2 -3.7Q6.2 -6.6 3.4 -6.6Z"/></g><text x="106.6" y="77.6" font-size="41.5" fill="#fff" font-weight="bold">北京地铁</text><text x="353.4" y="77.4" font-size="45.5" fill="#fff" font-weight="bold" letter-spacing="2.8">一图看懂地铁运营调整信息</text><text x="34.4" y="157.8" font-size="8.9" fill="#274f86" font-weight="bold" letter-spacing="0.7">图例</text><text x="54.2" y="157.4" font-size="8.9" fill="#274f86" font-weight="bold">:</text><text x="34.4" y="164.3" font-size="6.3" fill="#274f86" text-anchor="start">Legend</text><rect x="34.5" y="166.5" width="26.3" height="9.4" fill="#c8362c"/><text x="63.8" y="170.4" font-size="5.2" fill="#1d447c" font-weight="bold" letter-spacing="0.3">地铁一号线</text><text x="63.8" y="176.1" font-size="5.2" fill="#1d447c" font-weight="bold" letter-spacing="0.3">地铁八通线</text><rect x="111.8" y="166.5" width="26" height="9.4" fill="#1c5c9c"/><text x="140.8" y="173.2" font-size="5.2" fill="#1d447c" font-weight="bold" letter-spacing="0.3">地铁二号线</text><rect x="34.5" y="181.5" width="26.3" height="9.4" fill="#16929c"/><text x="63.8" y="185.4" font-size="5.2" fill="#1d447c" font-weight="bold" letter-spacing="0.3">地铁四号线</text><text x="63.8" y="191.1" font-size="5.2" fill="#1d447c" font-weight="bold" letter-spacing="0.3">地铁大兴线</text><rect x="111.8" y="181.5" width="26" height="9.4" fill="#a21a8e"/><text x="140.8" y="188.2" font-size="5.2" fill="#1d447c" font-weight="bold" letter-spacing="0.3">地铁五号线</text><rect x="34.5" y="196.5" width="26.3" height="9.4" fill="#d29c0c"/><text x="63.8" y="203.2" font-size="5.2" fill="#1d447c" font-weight="bold" letter-spacing="0.3">地铁六号线</text><rect x="111.8" y="196.5" width="26" height="9.4" fill="#f9c97c"/><text x="140.8" y="203.2" font-size="5.2" fill="#1d447c" font-weight="bold" letter-spacing="0.3">地铁七号线</text><rect x="34.5" y="211.5" width="26.3" height="9.4" fill="#129a6c"/><text x="63.8" y="218.2" font-size="5.2" fill="#1d447c" font-weight="bold" letter-spacing="0.3">地铁八号线</text><rect x="111.8" y="211.5" width="26" height="9.4" fill="#8eca22"/><text x="140.8" y="218.2" font-size="5.2" fill="#1d447c" font-weight="bold" letter-spacing="0.3">地铁九号线</text><rect x="34.5" y="226.5" width="26.3" height="9.4" fill="#1c9ece"/><text x="63.8" y="233.2" font-size="5.2" fill="#1d447c" font-weight="bold" letter-spacing="0.3">地铁十号线</text><rect x="111.8" y="226.5" width="26" height="9.4" fill="#f27a6a"/><text x="140.8" y="233.2" font-size="5.2" fill="#1d447c" font-weight="bold" letter-spacing="0.3">地铁十一号线</text><rect x="34.5" y="241.5" width="26.3" height="9.4" fill="#f9ea1a"/><text x="63.8" y="248.2" font-size="5.2" fill="#1d447c" font-weight="bold" letter-spacing="0.3">地铁十三号线</text><rect x="111.8" y="241.5" width="26" height="9.4" fill="#d9a29a"/><text x="140.8" y="248.2" font-size="5.2" fill="#1d447c" font-weight="bold" letter-spacing="0.3">地铁十四号线</text><rect x="34.5" y="256.5" width="26.3" height="9.4" fill="#6c3c94"/><text x="63.8" y="263.2" font-size="5.2" fill="#1d447c" font-weight="bold" letter-spacing="0.3">地铁十五号线</text><rect x="111.8" y="256.5" width="26" height="9.4" fill="#7aaa2a"/><text x="140.8" y="263.2" font-size="5.2" fill="#1d447c" font-weight="bold" letter-spacing="0.3">地铁十六号线</text><rect x="34.5" y="271.5" width="26.3" height="9.4" fill="#1aaab2"/><text x="63.8" y="278.2" font-size="5.2" fill="#1d447c" font-weight="bold" letter-spacing="0.3">地铁十七号线</text><rect x="111.8" y="271.5" width="26" height="9.4" fill="#d9aaca"/><text x="140.8" y="278.2" font-size="5.2" fill="#1d447c" font-weight="bold" letter-spacing="0.3">地铁十九号线</text><rect x="34.5" y="286.5" width="26.3" height="9.4" fill="#ea6a2a"/><text x="63.8" y="293.2" font-size="5.2" fill="#1d447c" font-weight="bold" letter-spacing="0.3">地铁房山线</text><rect x="111.8" y="286.5" width="26" height="9.4" fill="#e28ac2"/><text x="140.8" y="293.2" font-size="5.2" fill="#1d447c" font-weight="bold" letter-spacing="0.3">地铁昌平线</text><rect x="34.5" y="301.5" width="26.3" height="9.4" fill="#ea128e"/><text x="63.8" y="308.2" font-size="5.2" fill="#1d447c" font-weight="bold" letter-spacing="0.3">地铁亦庄线</text><rect x="111.8" y="301.5" width="26" height="9.4" fill="#ea722a"/><text x="140.8" y="308.2" font-size="5.2" fill="#1d447c" font-weight="bold" letter-spacing="0.3">地铁燕房线</text><rect x="34.5" y="316.5" width="26.3" height="9.4" fill="#b25a2a"/><text x="63.8" y="323.2" font-size="5.2" fill="#1d447c" font-weight="bold" letter-spacing="0.15">S1线</text><rect x="111.8" y="316.5" width="26" height="9.4" fill="#ea1a2a"/><text x="140.8" y="323.2" font-size="5.2" fill="#1d447c" font-weight="bold" letter-spacing="0.3">西郊线</text><rect x="34.5" y="331.5" width="26.3" height="9.4" fill="#ea1222"/><text x="63.8" y="338.2" font-size="5.2" fill="#1d447c" font-weight="bold" letter-spacing="0.25">亦庄T1线</text><rect x="111.8" y="331.5" width="26" height="9.4" fill="#aaa2ce"/><text x="140.8" y="338.2" font-size="5.2" fill="#1d447c" font-weight="bold" letter-spacing="0.3">首都机场线</text><rect x="34.5" y="346.5" width="26.3" height="9.4" fill="#0c4c9c"/><text x="63.8" y="353.2" font-size="5.2" fill="#1d447c" font-weight="bold" letter-spacing="0.3">大兴机场线</text><g transform="translate(125 351.4) scale(1.25)"><use href="#mt"/></g><text x="140.8" y="353.2" font-size="5.2" fill="#1d447c" font-weight="bold" letter-spacing="0.3">换乘站</text><text x="916.5" y="168.6" font-size="23" fill="#8ea4c4">北</text><text x="927.6" y="181.4" font-size="9.6" font-weight="bold" fill="#8ea4c4" text-anchor="middle" textLength="39.5" lengthAdjust="spacingAndGlyphs">NORTH</text><circle cx="927.4" cy="207" r="16.4" fill="none" stroke="#a8a8b0" stroke-width="0.5"/><path d="M927.4 184.6L936.8 225.6L927.4 215.8L918.6 225.6Z" fill="#8ea4c4"/><rect x="865.6" y="264.9" width="107.6" height="106.6" fill="#fff" stroke="#2c5c9c" stroke-width="1.3"/><path d="M869 267.6h19.11v2.73h-19.11zM890.84 267.6h13.65v2.73h-13.65zM907.22 267.6h5.46v2.73h-5.46zM920.86 267.6h2.73v2.73h-2.73zM926.32 267.6h2.73v2.73h-2.73zM931.78 267.6h10.92v2.73h-10.92zM945.43 267.6h2.73v2.73h-2.73zM950.89 267.6h19.11v2.73h-19.11zM869 270.33h2.73v2.73h-2.73zM885.38 270.33h2.73v2.73h-2.73zM901.76 270.33h2.73v2.73h-2.73zM907.22 270.33h5.46v2.73h-5.46zM915.41 270.33h8.19v2.73h-8.19zM934.51 270.33h2.73v2.73h-2.73zM945.43 270.33h2.73v2.73h-2.73zM950.89 270.33h2.73v2.73h-2.73zM967.27 270.33h2.73v2.73h-2.73zM869 273.06h2.73v2.73h-2.73zM874.46 273.06h8.19v2.73h-8.19zM885.38 273.06h2.73v2.73h-2.73zM890.84 273.06h2.73v2.73h-2.73zM896.3 273.06h8.19v2.73h-8.19zM907.22 273.06h5.46v2.73h-5.46zM923.59 273.06h8.19v2.73h-8.19zM937.24 273.06h10.92v2.73h-10.92zM950.89 273.06h2.73v2.73h-2.73zM956.35 273.06h8.19v2.73h-8.19zM967.27 273.06h2.73v2.73h-2.73zM869 275.79h2.73v2.73h-2.73zM874.46 275.79h8.19v2.73h-8.19zM885.38 275.79h2.73v2.73h-2.73zM893.57 275.79h8.19v2.73h-8.19zM904.49 275.79h30.03v2.73h-30.03zM939.97 275.79h8.19v2.73h-8.19zM950.89 275.79h2.73v2.73h-2.73zM956.35 275.79h8.19v2.73h-8.19zM967.27 275.79h2.73v2.73h-2.73zM869 278.52h2.73v2.73h-2.73zM874.46 278.52h8.19v2.73h-8.19zM885.38 278.52h2.73v2.73h-2.73zM893.57 278.52h2.73v2.73h-2.73zM907.22 278.52h8.19v2.73h-8.19zM923.59 278.52h5.46v2.73h-5.46zM945.43 278.52h2.73v2.73h-2.73zM950.89 278.52h2.73v2.73h-2.73zM956.35 278.52h8.19v2.73h-8.19zM967.27 278.52h2.73v2.73h-2.73zM869 281.25h2.73v2.73h-2.73zM885.38 281.25h2.73v2.73h-2.73zM890.84 281.25h2.73v2.73h-2.73zM901.76 281.25h2.73v2.73h-2.73zM909.95 281.25h2.73v2.73h-2.73zM923.59 281.25h5.46v2.73h-5.46zM931.78 281.25h2.73v2.73h-2.73zM939.97 281.25h5.46v2.73h-5.46zM950.89 281.25h2.73v2.73h-2.73zM967.27 281.25h2.73v2.73h-2.73zM869 283.98h19.11v2.73h-19.11zM890.84 283.98h2.73v2.73h-2.73zM896.3 283.98h2.73v2.73h-2.73zM901.76 283.98h2.73v2.73h-2.73zM907.22 283.98h2.73v2.73h-2.73zM912.68 283.98h2.73v2.73h-2.73zM918.14 283.98h2.73v2.73h-2.73zM923.59 283.98h2.73v2.73h-2.73zM929.05 283.98h2.73v2.73h-2.73zM934.51 283.98h2.73v2.73h-2.73zM939.97 283.98h2.73v2.73h-2.73zM945.43 283.98h2.73v2.73h-2.73zM950.89 283.98h19.11v2.73h-19.11zM893.57 286.71h5.46v2.73h-5.46zM912.68 286.71h2.73v2.73h-2.73zM926.32 286.71h2.73v2.73h-2.73zM931.78 286.71h2.73v2.73h-2.73zM945.43 286.71h2.73v2.73h-2.73zM869 289.44h2.73v2.73h-2.73zM879.92 289.44h2.73v2.73h-2.73zM885.38 289.44h5.46v2.73h-5.46zM896.3 289.44h2.73v2.73h-2.73zM901.76 289.44h5.46v2.73h-5.46zM912.68 289.44h5.46v2.73h-5.46zM920.86 289.44h8.19v2.73h-8.19zM931.78 289.44h2.73v2.73h-2.73zM937.24 289.44h8.19v2.73h-8.19zM950.89 289.44h2.73v2.73h-2.73zM961.81 289.44h8.19v2.73h-8.19zM871.73 292.17h8.19v2.73h-8.19zM888.11 292.17h2.73v2.73h-2.73zM899.03 292.17h5.46v2.73h-5.46zM907.22 292.17h5.46v2.73h-5.46zM920.86 292.17h2.73v2.73h-2.73zM926.32 292.17h2.73v2.73h-2.73zM931.78 292.17h5.46v2.73h-5.46zM942.7 292.17h5.46v2.73h-5.46zM950.89 292.17h19.11v2.73h-19.11zM871.73 294.9h2.73v2.73h-2.73zM877.19 294.9h13.65v2.73h-13.65zM896.3 294.9h5.46v2.73h-5.46zM904.49 294.9h2.73v2.73h-2.73zM909.95 294.9h5.46v2.73h-5.46zM918.14 294.9h2.73v2.73h-2.73zM929.05 294.9h2.73v2.73h-2.73zM939.97 294.9h13.65v2.73h-13.65zM956.35 294.9h8.19v2.73h-8.19zM871.73 297.63h13.65v2.73h-13.65zM888.11 297.63h2.73v2.73h-2.73zM899.03 297.63h2.73v2.73h-2.73zM904.49 297.63h13.65v2.73h-13.65zM920.86 297.63h2.73v2.73h-2.73zM926.32 297.63h21.84v2.73h-21.84zM964.54 297.63h5.46v2.73h-5.46zM871.73 300.36h2.73v2.73h-2.73zM879.92 300.36h2.73v2.73h-2.73zM885.38 300.36h2.73v2.73h-2.73zM896.3 300.36h2.73v2.73h-2.73zM923.59 300.36h13.65v2.73h-13.65zM950.89 300.36h5.46v2.73h-5.46zM869 303.09h2.73v2.73h-2.73zM874.46 303.09h8.19v2.73h-8.19zM893.57 303.09h8.19v2.73h-8.19zM912.68 303.09h8.19v2.73h-8.19zM923.59 303.09h2.73v2.73h-2.73zM929.05 303.09h8.19v2.73h-8.19zM945.43 303.09h2.73v2.73h-2.73zM950.89 303.09h8.19v2.73h-8.19zM961.81 303.09h2.73v2.73h-2.73zM869 305.82h5.46v2.73h-5.46zM879.92 305.82h8.19v2.73h-8.19zM890.84 305.82h2.73v2.73h-2.73zM896.3 305.82h2.73v2.73h-2.73zM904.49 305.82h2.73v2.73h-2.73zM918.14 305.82h2.73v2.73h-2.73zM923.59 305.82h24.57v2.73h-24.57zM950.89 305.82h2.73v2.73h-2.73zM959.08 305.82h2.73v2.73h-2.73zM869 308.55h8.19v2.73h-8.19zM882.65 308.55h2.73v2.73h-2.73zM888.11 308.55h8.19v2.73h-8.19zM899.03 308.55h2.73v2.73h-2.73zM904.49 308.55h5.46v2.73h-5.46zM912.68 308.55h5.46v2.73h-5.46zM939.97 308.55h2.73v2.73h-2.73zM945.43 308.55h2.73v2.73h-2.73zM953.62 308.55h5.46v2.73h-5.46zM961.81 308.55h8.19v2.73h-8.19zM869 311.28h2.73v2.73h-2.73zM877.19 311.28h2.73v2.73h-2.73zM882.65 311.28h16.38v2.73h-16.38zM901.76 311.28h5.46v2.73h-5.46zM912.68 311.28h21.84v2.73h-21.84zM942.7 311.28h5.46v2.73h-5.46zM950.89 311.28h10.92v2.73h-10.92zM964.54 311.28h2.73v2.73h-2.73zM874.46 314.01h10.92v2.73h-10.92zM896.3 314.01h5.46v2.73h-5.46zM907.22 314.01h2.73v2.73h-2.73zM912.68 314.01h5.46v2.73h-5.46zM929.05 314.01h8.19v2.73h-8.19zM953.62 314.01h2.73v2.73h-2.73zM959.08 314.01h2.73v2.73h-2.73zM964.54 314.01h2.73v2.73h-2.73zM871.73 316.74h8.19v2.73h-8.19zM885.38 316.74h5.46v2.73h-5.46zM896.3 316.74h5.46v2.73h-5.46zM904.49 316.74h8.19v2.73h-8.19zM920.86 316.74h8.19v2.73h-8.19zM934.51 316.74h8.19v2.73h-8.19zM945.43 316.74h5.46v2.73h-5.46zM956.35 316.74h10.92v2.73h-10.92zM869 319.46h2.73v2.73h-2.73zM879.92 319.46h2.73v2.73h-2.73zM890.84 319.46h5.46v2.73h-5.46zM899.03 319.46h2.73v2.73h-2.73zM904.49 319.46h10.92v2.73h-10.92zM920.86 319.46h8.19v2.73h-8.19zM931.78 319.46h10.92v2.73h-10.92zM956.35 319.46h5.46v2.73h-5.46zM967.27 319.46h2.73v2.73h-2.73zM871.73 322.19h19.11v2.73h-19.11zM893.57 322.19h2.73v2.73h-2.73zM899.03 322.19h5.46v2.73h-5.46zM909.95 322.19h10.92v2.73h-10.92zM923.59 322.19h5.46v2.73h-5.46zM931.78 322.19h5.46v2.73h-5.46zM942.7 322.19h8.19v2.73h-8.19zM953.62 322.19h2.73v2.73h-2.73zM961.81 322.19h5.46v2.73h-5.46zM871.73 324.92h2.73v2.73h-2.73zM877.19 324.92h8.19v2.73h-8.19zM896.3 324.92h8.19v2.73h-8.19zM909.95 324.92h10.92v2.73h-10.92zM923.59 324.92h2.73v2.73h-2.73zM939.97 324.92h8.19v2.73h-8.19zM950.89 324.92h5.46v2.73h-5.46zM959.08 324.92h8.19v2.73h-8.19zM869 327.65h2.73v2.73h-2.73zM879.92 327.65h10.92v2.73h-10.92zM893.57 327.65h8.19v2.73h-8.19zM915.41 327.65h2.73v2.73h-2.73zM920.86 327.65h2.73v2.73h-2.73zM926.32 327.65h2.73v2.73h-2.73zM931.78 327.65h10.92v2.73h-10.92zM948.16 327.65h5.46v2.73h-5.46zM959.08 327.65h2.73v2.73h-2.73zM869 330.38h5.46v2.73h-5.46zM882.65 330.38h2.73v2.73h-2.73zM888.11 330.38h5.46v2.73h-5.46zM901.76 330.38h2.73v2.73h-2.73zM907.22 330.38h5.46v2.73h-5.46zM918.14 330.38h2.73v2.73h-2.73zM926.32 330.38h13.65v2.73h-13.65zM945.43 330.38h8.19v2.73h-8.19zM956.35 330.38h8.19v2.73h-8.19zM869 333.11h8.19v2.73h-8.19zM882.65 333.11h5.46v2.73h-5.46zM890.84 333.11h8.19v2.73h-8.19zM901.76 333.11h2.73v2.73h-2.73zM907.22 333.11h5.46v2.73h-5.46zM918.14 333.11h5.46v2.73h-5.46zM926.32 333.11h5.46v2.73h-5.46zM934.51 333.11h2.73v2.73h-2.73zM939.97 333.11h2.73v2.73h-2.73zM945.43 333.11h8.19v2.73h-8.19zM961.81 333.11h2.73v2.73h-2.73zM967.27 333.11h2.73v2.73h-2.73zM871.73 335.84h5.46v2.73h-5.46zM882.65 335.84h2.73v2.73h-2.73zM893.57 335.84h5.46v2.73h-5.46zM904.49 335.84h5.46v2.73h-5.46zM912.68 335.84h2.73v2.73h-2.73zM923.59 335.84h2.73v2.73h-2.73zM929.05 335.84h5.46v2.73h-5.46zM939.97 335.84h8.19v2.73h-8.19zM950.89 335.84h8.19v2.73h-8.19zM964.54 335.84h2.73v2.73h-2.73zM871.73 338.57h2.73v2.73h-2.73zM877.19 338.57h2.73v2.73h-2.73zM885.38 338.57h8.19v2.73h-8.19zM896.3 338.57h2.73v2.73h-2.73zM901.76 338.57h8.19v2.73h-8.19zM912.68 338.57h5.46v2.73h-5.46zM923.59 338.57h32.76v2.73h-32.76zM964.54 338.57h2.73v2.73h-2.73zM869 341.3h2.73v2.73h-2.73zM874.46 341.3h2.73v2.73h-2.73zM888.11 341.3h2.73v2.73h-2.73zM893.57 341.3h2.73v2.73h-2.73zM901.76 341.3h2.73v2.73h-2.73zM909.95 341.3h5.46v2.73h-5.46zM918.14 341.3h2.73v2.73h-2.73zM923.59 341.3h2.73v2.73h-2.73zM929.05 341.3h2.73v2.73h-2.73zM937.24 341.3h5.46v2.73h-5.46zM950.89 341.3h5.46v2.73h-5.46zM964.54 341.3h2.73v2.73h-2.73zM869 344.03h2.73v2.73h-2.73zM877.19 344.03h2.73v2.73h-2.73zM885.38 344.03h2.73v2.73h-2.73zM890.84 344.03h2.73v2.73h-2.73zM899.03 344.03h2.73v2.73h-2.73zM904.49 344.03h2.73v2.73h-2.73zM912.68 344.03h2.73v2.73h-2.73zM918.14 344.03h5.46v2.73h-5.46zM926.32 344.03h2.73v2.73h-2.73zM931.78 344.03h2.73v2.73h-2.73zM939.97 344.03h2.73v2.73h-2.73zM945.43 344.03h2.73v2.73h-2.73zM950.89 344.03h5.46v2.73h-5.46zM959.08 344.03h2.73v2.73h-2.73zM967.27 344.03h2.73v2.73h-2.73zM896.3 346.76h2.73v2.73h-2.73zM901.76 346.76h5.46v2.73h-5.46zM909.95 346.76h8.19v2.73h-8.19zM926.32 346.76h8.19v2.73h-8.19zM939.97 346.76h2.73v2.73h-2.73zM950.89 346.76h5.46v2.73h-5.46zM959.08 346.76h2.73v2.73h-2.73zM964.54 346.76h5.46v2.73h-5.46zM869 349.49h19.11v2.73h-19.11zM899.03 349.49h10.92v2.73h-10.92zM918.14 349.49h2.73v2.73h-2.73zM926.32 349.49h2.73v2.73h-2.73zM931.78 349.49h21.84v2.73h-21.84zM959.08 349.49h2.73v2.73h-2.73zM964.54 349.49h2.73v2.73h-2.73zM869 352.22h2.73v2.73h-2.73zM885.38 352.22h2.73v2.73h-2.73zM890.84 352.22h2.73v2.73h-2.73zM901.76 352.22h2.73v2.73h-2.73zM907.22 352.22h5.46v2.73h-5.46zM926.32 352.22h2.73v2.73h-2.73zM937.24 352.22h2.73v2.73h-2.73zM945.43 352.22h5.46v2.73h-5.46zM953.62 352.22h2.73v2.73h-2.73zM959.08 352.22h8.19v2.73h-8.19zM869 354.95h2.73v2.73h-2.73zM874.46 354.95h8.19v2.73h-8.19zM885.38 354.95h2.73v2.73h-2.73zM890.84 354.95h2.73v2.73h-2.73zM896.3 354.95h2.73v2.73h-2.73zM907.22 354.95h2.73v2.73h-2.73zM918.14 354.95h10.92v2.73h-10.92zM942.7 354.95h8.19v2.73h-8.19zM953.62 354.95h16.38v2.73h-16.38zM869 357.68h2.73v2.73h-2.73zM874.46 357.68h8.19v2.73h-8.19zM885.38 357.68h2.73v2.73h-2.73zM890.84 357.68h5.46v2.73h-5.46zM899.03 357.68h2.73v2.73h-2.73zM907.22 357.68h2.73v2.73h-2.73zM912.68 357.68h2.73v2.73h-2.73zM918.14 357.68h8.19v2.73h-8.19zM931.78 357.68h8.19v2.73h-8.19zM942.7 357.68h8.19v2.73h-8.19zM953.62 357.68h2.73v2.73h-2.73zM959.08 357.68h5.46v2.73h-5.46zM967.27 357.68h2.73v2.73h-2.73zM869 360.41h2.73v2.73h-2.73zM874.46 360.41h8.19v2.73h-8.19zM885.38 360.41h2.73v2.73h-2.73zM890.84 360.41h5.46v2.73h-5.46zM899.03 360.41h2.73v2.73h-2.73zM904.49 360.41h8.19v2.73h-8.19zM918.14 360.41h2.73v2.73h-2.73zM923.59 360.41h5.46v2.73h-5.46zM939.97 360.41h8.19v2.73h-8.19zM956.35 360.41h5.46v2.73h-5.46zM967.27 360.41h2.73v2.73h-2.73zM869 363.14h2.73v2.73h-2.73zM885.38 363.14h2.73v2.73h-2.73zM890.84 363.14h8.19v2.73h-8.19zM901.76 363.14h8.19v2.73h-8.19zM915.41 363.14h2.73v2.73h-2.73zM920.86 363.14h5.46v2.73h-5.46zM934.51 363.14h5.46v2.73h-5.46zM942.7 363.14h13.65v2.73h-13.65zM967.27 363.14h2.73v2.73h-2.73zM869 365.87h19.11v2.73h-19.11zM890.84 365.87h5.46v2.73h-5.46zM915.41 365.87h5.46v2.73h-5.46zM923.59 365.87h5.46v2.73h-5.46zM937.24 365.87h8.19v2.73h-8.19zM948.16 365.87h2.73v2.73h-2.73zM956.35 365.87h2.73v2.73h-2.73zM964.54 365.87h5.46v2.73h-5.46z" fill="#0a0a0a"/><text x="866.6" y="387.9" font-size="13.5" fill="#1d4c8a" stroke="#1d4c8a" stroke-width="0.43" font-weight="bold">扫一扫获取高清图</text><rect x="833.2" y="620.7" width="153.6" height="123.6" rx="5" fill="#fff" stroke="#fcefb4" stroke-width="4"/><rect x="833.2" y="620.7" width="153.6" height="123.6" rx="5" fill="#fff" stroke="#e01a1a" stroke-width="2"/><circle cx="861" cy="647" r="12.2" fill="#fce98a"/><circle cx="861" cy="647" r="10.3" fill="#ee1111"/><g transform="translate(861 683)"><circle r="12.6" fill="#fce98a"/><circle r="11.4" fill="#ea1a0c"/><g fill="none" stroke="#b9df2a" stroke-width="2.3" stroke-linecap="butt"><path d="M-1.5 -6.6C-6.6 -5 -7.4 1.2 -4.4 4.6"/><path d="M1.5 6.6C6.6 5 7.4 -1.2 4.4 -4.6"/></g><path d="M-7.6 2.2L-2.6 7.2L-1.4 1.2Z" fill="#b9df2a"/><path d="M7.6 -2.2L2.6 -7.2L1.4 -1.2Z" fill="#b9df2a"/></g><g transform="translate(861 720.6)"><circle r="11.4" fill="#fff" stroke="#1b8766" stroke-width="2.7"/><circle r="12.6" fill="none" stroke="#0f5a3c" stroke-width="0.6"/><path d="M0 8V-6.6M-6 -1.2L0 -7.2L6 -1.2" fill="none" stroke="#1b8766" stroke-width="2.5" stroke-linecap="butt" stroke-linejoin="miter"/></g><text x="879.6" y="642.4" font-size="10.5" fill="#e01a1a" font-weight="bold">:</text><text x="889" y="642.4" font-size="10.5" fill="#e01a1a" font-weight="bold">出入口封闭</text><text x="888.4" y="654.9" font-size="10.5" fill="#e01a1a" font-weight="bold">列车通过不停车</text><text x="879.6" y="681.2" font-size="10.5" fill="#e01a1a" font-weight="bold">:</text><text x="889" y="681.2" font-size="10.5" fill="#e01a1a" font-weight="bold">出入口封闭</text><text x="889.4" y="693.6" font-size="10.5" fill="#e01a1a" font-weight="bold">可正常换乘</text><text x="880.4" y="721.3" font-size="10.5" fill="#e01a1a" font-weight="bold">:</text><text x="889.8" y="721.3" font-size="10.5" fill="#e01a1a" font-weight="bold">需要查验健康码</text><text x="889.4" y="733.8" font-size="10.5" fill="#e01a1a" font-weight="bold">的车站</text></svg></body></html>
